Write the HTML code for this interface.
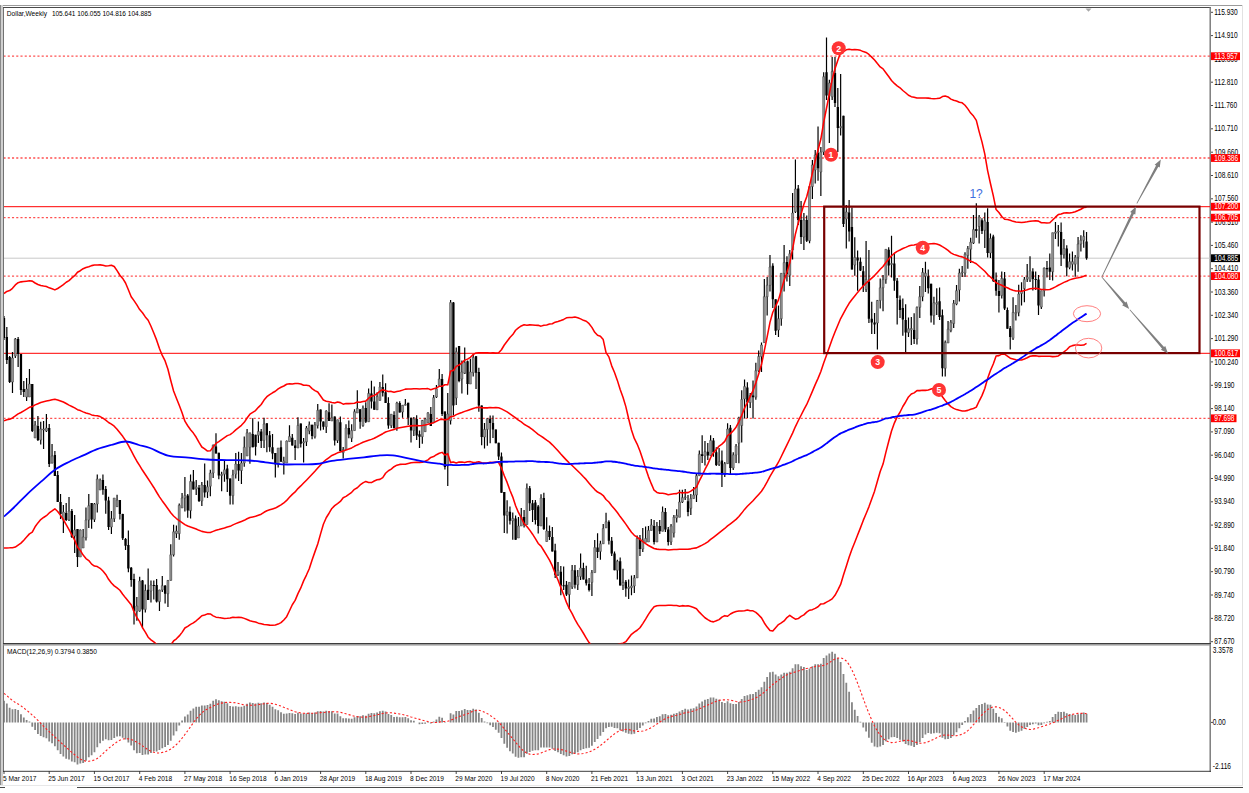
<!DOCTYPE html>
<html><head><meta charset="utf-8"><style>
html,body{margin:0;padding:0;background:#fff;width:1249px;height:793px;overflow:hidden}
svg{display:block}
text{font-family:"Liberation Sans", sans-serif;}
.ax{font-size:7px;letter-spacing:-0.25px}
</style></head><body><svg width="1249" height="793" viewBox="0 0 1249 793"><defs><clipPath id="cm"><rect x="4" y="8" width="1206" height="635.5"/></clipPath><clipPath id="cd"><rect x="4" y="645" width="1206" height="126"/></clipPath></defs><rect x="0" y="0" width="1249" height="793" fill="#fff"/><line x1="0" y1="5.5" x2="1243" y2="5.5" stroke="#9a9a9a" stroke-width="1"/><line x1="0.5" y1="5" x2="0.5" y2="786" stroke="#8a8a8a" stroke-width="1"/><line x1="2" y1="5" x2="2" y2="786" stroke="#d0d0d0" stroke-width="2"/><line x1="3.5" y1="7" x2="3.5" y2="772" stroke="#727272" stroke-width="1"/><line x1="3" y1="7.5" x2="1211" y2="7.5" stroke="#4a4a4a" stroke-width="1"/><line x1="1210.2" y1="7" x2="1210.2" y2="772" stroke="#747474" stroke-width="1.4"/><line x1="1242.5" y1="5" x2="1242.5" y2="786" stroke="#e2e2e2" stroke-width="1"/><line x1="3" y1="643.6" x2="1211" y2="643.6" stroke="#3c3c3c" stroke-width="1.1"/><line x1="3" y1="644.9" x2="1211" y2="644.9" stroke="#8c8c8c" stroke-width="1.2"/><line x1="3" y1="771.3" x2="1211" y2="771.3" stroke="#3c3c3c" stroke-width="1"/><line x1="0" y1="785.5" x2="1243" y2="785.5" stroke="#e8e8e8" stroke-width="1"/><line x1="77" y1="787.5" x2="1243" y2="787.5" stroke="#4a4a4a" stroke-width="1"/><line x1="0" y1="787.5" x2="5" y2="787.5" stroke="#4a4a4a" stroke-width="1"/><g clip-path="url(#cm)"><line x1="4" y1="56.2" x2="1210" y2="56.2" stroke="#ff0000" stroke-width="1.3" stroke-dasharray="2.1 2.14" stroke-dashoffset="0.5" opacity="0.68"/><line x1="4" y1="158.0" x2="1210" y2="158.0" stroke="#ff0000" stroke-width="1.3" stroke-dasharray="2.1 2.14" stroke-dashoffset="0.5" opacity="0.68"/><line x1="4" y1="206.7" x2="1210" y2="206.7" stroke="#ff0000" stroke-width="1" /><line x1="4" y1="217.7" x2="1210" y2="217.7" stroke="#ff0000" stroke-width="1.3" stroke-dasharray="2.1 2.14" stroke-dashoffset="0.5" opacity="0.68"/><line x1="4" y1="258.2" x2="1210" y2="258.2" stroke="#c8c8c8" stroke-width="1" /><line x1="4" y1="276.1" x2="1210" y2="276.1" stroke="#ff0000" stroke-width="1.3" stroke-dasharray="2.1 2.14" stroke-dashoffset="0.5" opacity="0.68"/><line x1="4" y1="353.3" x2="1210" y2="353.3" stroke="#ff0000" stroke-width="1" /><line x1="4" y1="418.3" x2="1210" y2="418.3" stroke="#ff0000" stroke-width="1.3" stroke-dasharray="2.1 2.14" stroke-dashoffset="0.5" opacity="0.68"/><path d="M12.48,352.0V393.0M15.31,338.0V358.0M26.61,378.0V401.0M29.44,369.0V397.0M35.09,421.0V438.0M40.74,421.7V444.4M43.57,421.0V449.0M46.40,414.0V432.0M52.05,444.0V463.5M63.36,505.0V533.0M69.01,497.0V521.0M74.66,515.0V553.0M80.32,529.6V557.0M83.14,529.0V548.0M85.97,507.6V540.4M88.79,494.0V528.0M94.45,503.0V522.0M97.27,474.6V512.4M100.10,478.4V490.0M111.41,511.0V533.9M114.23,498.0V521.9M117.06,494.8V506.7M136.85,597.0V620.8M139.67,576.8V611.7M145.32,584.4V612.4M150.98,580.6V602.6M159.46,589.7V611.0M162.28,576.0V592.0M167.94,580.0V607.0M170.76,544.2V580.4M173.59,524.8V556.6M176.42,525.6V538.0M179.24,503.6V539.8M182.07,493.0V508.0M184.90,477.0V511.5M190.55,474.4V518.6M196.20,480.0V495.0M201.85,482.0V506.0M207.51,480.5V498.0M210.33,469.8V496.3M213.16,444.6V478.0M221.64,471.7V491.2M224.47,461.0V481.8M232.95,469.8V504.5M235.77,453.0V478.6M241.43,453.0V483.9M244.25,436.6V466.7M247.08,429.0V456.0M249.91,432.8V463.7M258.38,421.4V442.9M264.04,417.7V448.0M278.17,448.0V467.5M283.82,456.7V474.4M286.65,440.4V463.0M289.48,425.2V441.6M297.96,417.2V448.0M303.61,438.0V462.6M306.44,426.0V446.0M309.26,421.6V434.2M314.91,422.0V438.6M317.74,404.0V428.5M326.22,410.3V433.0M331.87,404.6V421.0M337.53,419.7V443.0M343.18,447.0V458.4M346.01,424.3V449.5M351.66,424.3V442.0M354.49,409.2V430.6M357.31,390.3V413.0M362.97,405.4V426.8M368.62,388.4V421.8M377.10,392.2V409.8M379.92,382.0V400.4M391.23,414.2V428.0M396.88,401.8V430.8M402.54,405.2V417.8M405.36,399.0V405.6M413.84,417.0V436.0M422.32,420.0V443.7M425.15,417.8V431.7M427.97,412.2V422.9M433.63,395.1V422.9M436.45,385.0V398.0M439.28,369.0V385.4M447.76,392.9V486.0M450.59,300.0V424.4M456.24,347.4V404.9M461.89,360.6V393.5M464.72,347.4V373.9M470.37,358.7V384.0M473.20,354.3V376.5M484.50,423.0V448.4M487.33,418.0V445.8M507.12,500.3V533.6M512.77,512.4V539.7M518.42,517.0V538.0M521.25,507.9V526.0M526.90,483.6V524.5M541.03,494.2V526.0M546.69,517.3V541.5M557.99,562.0V576.0M569.30,582.4V609.0M572.13,565.0V589.0M577.78,570.0V590.0M580.61,553.6V580.0M591.91,570.0V596.0M594.74,540.0V572.6M600.39,540.8V559.7M603.22,524.0V543.8M606.04,512.7V527.9M617.35,559.7V579.4M623.00,568.8V590.0M628.66,579.4V599.0M631.48,575.6V595.3M634.31,575.0V593.0M637.14,535.5V577.9M642.79,527.9V552.0M645.62,526.4V542.3M648.44,526.0V542.0M651.27,519.0V530.4M656.92,522.0V542.0M662.57,506.6V531.3M671.05,524.0V545.0M673.88,515.0V537.5M676.71,509.2V522.5M679.53,489.8V517.2M682.36,489.8V503.0M685.19,489.0V500.0M690.84,494.0V515.0M693.67,487.0V498.6M696.49,474.0V502.0M699.32,450.4V475.7M704.97,441.0V465.6M710.62,435.3V455.5M719.10,448.0V466.0M724.76,462.0V477.0M727.58,423.3V463.7M733.24,452.3V470.0M736.06,444.0V463.0M738.89,416.7V463.3M741.72,390.2V442.5M744.54,379.5V418.4M750.20,393.0V408.0M755.85,362.7V399.8M758.68,350.4V372.0M761.50,342.4V372.0M764.33,279.0V342.7M767.15,277.0V315.6M769.98,255.0V291.6M778.46,305.5V337.0M781.29,273.3V325.7M784.11,245.0V291.6M789.77,250.0V286.0M792.59,192.9V259.5M795.42,159.5V213.0M803.90,213.0V250.0M809.55,186.6V243.3M812.38,160.0V199.0M815.21,150.0V183.4M820.86,147.0V196.0M823.68,72.2V155.0M829.34,79.8V143.0M832.16,57.1V100.0M840.64,74.0V135.4M846.30,205.0V248.5M854.78,237.2V275.7M866.08,241.0V292.0M877.39,300.0V349.6M880.21,278.4V308.6M883.04,275.0V311.2M885.87,249.3V283.7M891.52,235.7V277.6M908.48,317.5V337.0M911.31,317.0V345.0M916.96,306.5V344.4M919.79,286.0V317.9M922.61,267.9V301.2M925.44,261.8V292.0M933.92,296.7V324.7M936.74,288.3V315.0M945.22,340.5V376.5M948.05,321.0V343.0M950.88,320.0V332.3M953.70,300.0V328.0M956.53,285.0V305.2M959.36,268.7V301.4M962.18,266.0V277.0M965.01,252.3V277.0M967.84,246.0V268.7M970.66,237.8V263.0M973.49,215.1V244.1M979.14,215.1V243.5M984.80,212.6V247.9M990.45,233.4V258.0M1001.75,271.4V298.5M1013.06,297.3V340.0M1015.89,304.9V320.6M1018.71,284.7V316.2M1021.54,282.2V305.5M1024.37,277.0V302.3M1027.19,263.9V282.0M1030.02,256.3V282.0M1041.33,290.7V309.0M1044.15,267.4V296.4M1052.63,232.7V280.6M1055.46,222.0V239.0M1058.28,225.1V246.6M1063.94,239.0V258.5M1069.59,253.5V269.3M1072.42,251.6V270.5M1075.24,255.0V276.8M1078.07,237.1V271.8M1080.90,235.2V251.6M1083.72,230.2V247.8" stroke="#000" stroke-width="1.2" fill="none"/><path d="M4.00,316.0V340.0M6.83,327.0V364.0M9.65,356.0V383.0M18.13,337.0V367.0M20.96,354.0V395.0M23.79,381.0V397.0M32.27,384.0V432.0M37.92,416.0V441.0M49.22,424.0V467.0M54.88,451.0V476.0M57.70,471.0V502.0M60.53,494.0V519.0M66.18,503.0V521.0M71.84,509.0V538.0M77.49,529.0V567.0M91.62,503.0V528.8M102.93,474.6V494.8M105.75,486.0V513.7M108.58,496.7V530.0M119.89,500.0V519.4M122.71,513.7V540.0M125.54,538.0V550.0M128.37,530.6V572.3M131.19,567.0V586.7M134.02,573.8V624.5M142.50,580.0V627.6M148.15,568.5V600.0M153.80,580.6V599.5M156.63,579.0V602.6M165.11,585.0V603.4M187.72,494.0V517.7M193.38,470.0V489.4M199.03,485.0V502.0M204.68,463.5V497.6M215.99,433.2V453.4M218.81,452.8V479.3M227.29,464.8V491.9M230.12,478.6V504.5M238.60,451.7V481.0M252.73,418.3V447.3M255.56,434.7V455.5M261.21,429.0V448.0M266.86,423.3V452.3M269.69,431.0V451.7M272.52,434.0V459.3M275.34,453.0V477.6M281.00,440.4V461.8M292.30,434.0V445.4M295.13,440.0V460.0M300.78,423.5V447.5M312.09,424.8V439.3M320.57,409.6V430.4M323.39,421.6V429.8M329.05,403.3V421.0M334.70,416.6V445.6M340.35,416.6V451.2M348.83,420.5V438.2M360.14,409.2V428.7M365.79,402.2V423.0M371.44,380.8V408.5M374.27,386.5V409.8M382.75,374.5V396.6M385.58,383.3V402.9M388.40,397.2V428.7M394.06,411.2V428.3M399.71,401.2V412.5M408.19,402.7V425.0M411.02,417.8V442.4M416.67,415.3V440.0M419.50,430.4V448.1M430.80,407.1V426.0M442.11,374.0V416.0M444.93,411.5V469.5M453.41,302.0V415.6M459.07,346.0V382.2M467.55,360.6V394.8M476.03,356.0V389.0M478.85,367.7V411.8M481.68,405.5V445.2M490.16,415.6V443.3M492.98,415.6V438.0M495.81,429.4V443.3M498.64,442.7V460.0M501.46,452.6V492.7M504.29,492.0V532.9M509.94,506.4V524.5M515.60,515.5V539.7M524.08,510.0V527.6M529.73,485.9V511.0M532.56,500.0V522.0M535.38,500.0V524.5M538.21,505.0V533.6M543.86,492.7V530.0M549.51,525.6V540.0M552.34,527.0V551.4M555.17,543.8V577.9M560.82,566.0V595.3M563.65,566.5V590.0M566.47,580.9V596.0M574.95,565.0V588.5M583.43,562.7V579.4M586.26,565.8V585.5M589.09,577.9V591.5M597.56,533.2V558.0M608.87,520.3V544.5M611.70,537.0V555.9M614.52,551.4V570.3M620.18,557.4V585.5M625.83,580.0V596.8M639.96,535.0V555.9M654.09,520.0V544.6M659.75,520.0V534.0M665.40,508.0V532.0M668.23,527.0V545.4M688.01,495.0V516.3M702.15,435.3V463.0M707.80,442.9V460.0M713.45,438.0V456.7M716.28,447.3V466.0M721.93,450.4V487.0M730.41,425.0V474.4M747.37,382.2V418.0M753.02,380.4V418.4M772.81,263.2V308.0M775.63,299.2V335.1M786.94,256.3V281.5M798.25,185.0V225.0M801.07,201.0V244.0M806.73,215.6V242.0M818.03,126.6V180.8M826.51,37.6V100.0M834.99,57.1V106.9M837.82,88.0V152.0M843.47,115.7V227.1M849.12,200.0V241.6M851.95,207.6V269.4M857.60,250.4V290.8M860.43,257.4V271.0M863.26,266.0V292.0M868.91,250.0V323.0M871.74,301.7V333.9M874.56,313.0V333.9M888.69,247.3V275.6M894.35,253.9V290.8M897.17,278.0V324.4M900.00,295.4V318.1M902.83,298.5V335.8M905.65,304.2V352.0M914.13,313.3V344.0M928.27,269.4V293.6M931.09,283.8V322.4M939.57,287.6V320.0M942.40,309.6V376.5M976.32,203.2V237.8M981.97,218.3V234.0M987.62,208.2V257.4M993.27,234.7V282.0M996.10,272.5V295.8M998.93,280.0V312.4M1004.58,272.0V310.0M1007.41,307.4V328.8M1010.23,326.0V349.6M1032.85,268.3V290.4M1035.67,271.4V290.0M1038.50,275.0V315.0M1046.98,261.0V277.5M1049.80,253.5V280.0M1061.11,222.6V266.1M1066.76,245.3V276.2M1086.55,232.1V259.8" stroke="#000" stroke-width="1.2" fill="none"/><path d="M11.48,358.0h2.0V382.0h-2.0ZM14.31,339.0h2.0V356.0h-2.0ZM25.61,389.0h2.0V397.0h-2.0ZM28.44,384.0h2.0V397.0h-2.0ZM34.09,425.0h2.0V438.0h-2.0ZM39.74,429.0h2.0V440.0h-2.0ZM42.57,429.0h2.0V430.0h-2.0ZM45.40,428.0h2.0V431.0h-2.0ZM51.05,456.0h2.0V463.0h-2.0ZM62.36,512.0h2.0V520.0h-2.0ZM68.01,511.0h2.0V520.0h-2.0ZM73.66,530.0h2.0V536.0h-2.0ZM79.32,530.0h2.0V557.0h-2.0ZM82.14,537.0h2.0V548.0h-2.0ZM84.97,520.0h2.0V537.8h-2.0ZM87.79,505.7h2.0V520.0h-2.0ZM93.45,504.0h2.0V519.4h-2.0ZM96.27,479.0h2.0V504.0h-2.0ZM99.10,480.0h2.0V490.0h-2.0ZM110.41,518.7h2.0V527.0h-2.0ZM113.23,498.0h2.0V518.7h-2.0ZM116.06,500.0h2.0V506.7h-2.0ZM135.85,606.0h2.0V611.7h-2.0ZM138.67,581.0h2.0V611.0h-2.0ZM144.32,590.5h2.0V609.4h-2.0ZM149.98,585.0h2.0V591.0h-2.0ZM158.46,590.0h2.0V601.6h-2.0ZM161.28,585.7h2.0V590.0h-2.0ZM166.94,580.4h2.0V593.7h-2.0ZM169.76,554.8h2.0V580.4h-2.0ZM172.59,531.8h2.0V554.8h-2.0ZM175.42,531.0h2.0V533.6h-2.0ZM178.24,505.3h2.0V533.6h-2.0ZM181.07,498.0h2.0V508.0h-2.0ZM183.90,495.6h2.0V498.0h-2.0ZM189.55,481.5h2.0V510.6h-2.0ZM195.20,487.0h2.0V489.0h-2.0ZM200.85,485.0h2.0V501.0h-2.0ZM206.51,486.8h2.0V492.0h-2.0ZM209.33,473.0h2.0V486.2h-2.0ZM212.16,445.2h2.0V473.0h-2.0ZM220.64,474.2h2.0V475.5h-2.0ZM223.47,469.8h2.0V474.2h-2.0ZM231.95,474.9h2.0V495.7h-2.0ZM234.77,464.0h2.0V474.2h-2.0ZM240.43,463.0h2.0V470.6h-2.0ZM243.25,447.3h2.0V463.0h-2.0ZM246.08,432.8h2.0V456.0h-2.0ZM248.91,432.8h2.0V447.3h-2.0ZM257.38,431.5h2.0V435.3h-2.0ZM263.04,424.0h2.0V440.4h-2.0ZM277.17,448.0h2.0V464.3h-2.0ZM282.82,461.0h2.0V463.0h-2.0ZM285.65,441.0h2.0V463.0h-2.0ZM288.48,436.6h2.0V441.6h-2.0ZM296.96,425.4h2.0V448.0h-2.0ZM302.61,441.8h2.0V443.0h-2.0ZM305.44,428.0h2.0V441.8h-2.0ZM308.26,424.8h2.0V431.0h-2.0ZM313.91,424.8h2.0V436.7h-2.0ZM316.74,410.3h2.0V425.4h-2.0ZM325.22,411.0h2.0V426.7h-2.0ZM330.87,417.8h2.0V421.0h-2.0ZM336.53,419.7h2.0V440.5h-2.0ZM342.18,449.5h2.0V452.7h-2.0ZM345.01,428.0h2.0V449.5h-2.0ZM350.66,430.6h2.0V438.2h-2.0ZM353.49,411.7h2.0V430.6h-2.0ZM356.31,408.5h2.0V413.0h-2.0ZM361.97,408.0h2.0V425.6h-2.0ZM367.62,393.4h2.0V421.8h-2.0ZM376.10,396.6h2.0V409.8h-2.0ZM378.92,387.1h2.0V400.4h-2.0ZM390.23,414.2h2.0V425.6h-2.0ZM395.88,403.0h2.0V428.3h-2.0ZM401.54,405.2h2.0V412.0h-2.0ZM404.36,404.3h2.0V405.2h-2.0ZM412.84,419.0h2.0V430.4h-2.0ZM421.32,420.4h2.0V436.7h-2.0ZM424.15,419.0h2.0V431.7h-2.0ZM426.97,412.8h2.0V422.9h-2.0ZM432.63,397.7h2.0V422.9h-2.0ZM435.45,388.8h2.0V397.0h-2.0ZM438.28,379.0h2.0V385.4h-2.0ZM446.76,414.0h2.0V465.8h-2.0ZM449.59,302.6h2.0V420.6h-2.0ZM455.24,351.8h2.0V398.0h-2.0ZM460.89,372.0h2.0V379.0h-2.0ZM463.72,362.6h2.0V373.3h-2.0ZM469.37,372.0h2.0V384.0h-2.0ZM472.20,357.6h2.0V372.7h-2.0ZM483.50,429.4h2.0V437.0h-2.0ZM486.33,418.7h2.0V429.4h-2.0ZM506.12,511.7h2.0V515.5h-2.0ZM511.77,518.5h2.0V520.8h-2.0ZM517.42,526.0h2.0V538.0h-2.0ZM520.25,517.0h2.0V526.0h-2.0ZM525.90,488.2h2.0V524.5h-2.0ZM540.03,498.0h2.0V526.0h-2.0ZM545.69,531.0h2.0V541.5h-2.0ZM556.99,570.3h2.0V574.8h-2.0ZM568.30,582.4h2.0V594.5h-2.0ZM571.13,570.3h2.0V587.0h-2.0ZM576.78,576.4h2.0V584.7h-2.0ZM579.61,568.0h2.0V576.4h-2.0ZM590.91,572.6h2.0V582.4h-2.0ZM593.74,547.6h2.0V572.6h-2.0ZM599.39,543.8h2.0V551.4h-2.0ZM602.22,528.6h2.0V543.8h-2.0ZM605.04,521.8h2.0V527.9h-2.0ZM616.35,561.2h2.0V570.3h-2.0ZM622.00,582.4h2.0V585.5h-2.0ZM627.66,587.0h2.0V588.5h-2.0ZM630.48,586.0h2.0V587.7h-2.0ZM633.31,577.9h2.0V586.0h-2.0ZM636.14,538.5h2.0V577.9h-2.0ZM641.79,540.0h2.0V549.0h-2.0ZM644.62,538.5h2.0V542.3h-2.0ZM647.44,530.4h2.0V542.0h-2.0ZM650.27,525.0h2.0V530.4h-2.0ZM655.92,526.0h2.0V542.0h-2.0ZM661.57,511.9h2.0V531.3h-2.0ZM670.05,526.0h2.0V542.0h-2.0ZM672.88,517.2h2.0V533.0h-2.0ZM675.71,515.4h2.0V518.0h-2.0ZM678.53,502.0h2.0V517.2h-2.0ZM681.36,497.7h2.0V502.0h-2.0ZM684.19,496.9h2.0V497.8h-2.0ZM689.84,498.6h2.0V508.3h-2.0ZM692.67,495.0h2.0V498.6h-2.0ZM695.49,475.7h2.0V495.0h-2.0ZM698.32,454.2h2.0V475.7h-2.0ZM703.97,451.7h2.0V456.0h-2.0ZM709.62,440.4h2.0V455.5h-2.0ZM718.10,461.8h2.0V464.3h-2.0ZM723.76,463.7h2.0V474.4h-2.0ZM726.58,429.0h2.0V463.7h-2.0ZM732.24,454.9h2.0V468.0h-2.0ZM735.06,446.0h2.0V454.9h-2.0ZM737.89,417.9h2.0V443.1h-2.0ZM740.72,399.6h2.0V425.5h-2.0ZM743.54,386.6h2.0V399.0h-2.0ZM749.20,395.4h2.0V402.5h-2.0ZM754.85,370.7h2.0V397.2h-2.0ZM757.68,356.5h2.0V370.7h-2.0ZM760.50,345.0h2.0V356.5h-2.0ZM763.33,296.7h2.0V342.7h-2.0ZM766.15,285.3h2.0V296.7h-2.0ZM768.98,267.0h2.0V285.3h-2.0ZM777.46,318.7h2.0V330.0h-2.0ZM780.29,273.3h2.0V318.7h-2.0ZM783.11,262.6h2.0V273.3h-2.0ZM788.77,253.8h2.0V275.2h-2.0ZM791.59,213.0h2.0V250.0h-2.0ZM794.42,189.0h2.0V211.8h-2.0ZM802.90,220.0h2.0V237.0h-2.0ZM808.55,186.6h2.0V240.8h-2.0ZM811.38,165.0h2.0V186.6h-2.0ZM814.21,155.0h2.0V170.0h-2.0ZM819.86,152.0h2.0V172.0h-2.0ZM822.68,76.7h2.0V152.0h-2.0ZM828.34,83.0h2.0V95.6h-2.0ZM831.16,71.6h2.0V96.8h-2.0ZM839.64,126.6h2.0V127.8h-2.0ZM845.30,212.0h2.0V219.0h-2.0ZM853.78,257.4h2.0V265.0h-2.0ZM865.08,279.4h2.0V289.5h-2.0ZM876.39,300.4h2.0V323.0h-2.0ZM879.21,287.8h2.0V300.4h-2.0ZM882.04,279.6h2.0V287.8h-2.0ZM884.87,249.3h2.0V279.6h-2.0ZM890.52,263.5h2.0V264.5h-2.0ZM907.48,328.8h2.0V332.6h-2.0ZM910.31,328.5h2.0V330.0h-2.0ZM915.96,307.3h2.0V339.0h-2.0ZM918.79,296.7h2.0V307.3h-2.0ZM921.61,272.4h2.0V296.7h-2.0ZM924.44,273.2h2.0V276.2h-2.0ZM932.92,302.7h2.0V315.6h-2.0ZM935.74,302.7h2.0V304.2h-2.0ZM944.22,342.4h2.0V368.3h-2.0ZM947.05,329.2h2.0V343.0h-2.0ZM949.88,322.2h2.0V330.4h-2.0ZM952.70,303.3h2.0V323.5h-2.0ZM955.53,290.7h2.0V304.0h-2.0ZM958.36,273.0h2.0V290.0h-2.0ZM961.18,272.0h2.0V273.0h-2.0ZM964.01,254.2h2.0V273.1h-2.0ZM966.84,248.5h2.0V255.5h-2.0ZM969.66,242.2h2.0V249.2h-2.0ZM972.49,229.6h2.0V242.9h-2.0ZM978.14,217.0h2.0V226.5h-2.0ZM983.80,220.8h2.0V230.3h-2.0ZM989.45,238.5h2.0V253.0h-2.0ZM1000.75,278.4h2.0V295.4h-2.0ZM1012.06,312.4h2.0V338.3h-2.0ZM1014.89,312.4h2.0V313.7h-2.0ZM1017.71,294.1h2.0V312.4h-2.0ZM1020.54,291.6h2.0V293.5h-2.0ZM1023.37,279.6h2.0V288.5h-2.0ZM1026.19,277.0h2.0V279.0h-2.0ZM1029.02,270.8h2.0V280.3h-2.0ZM1040.33,290.7h2.0V307.0h-2.0ZM1043.15,268.0h2.0V290.7h-2.0ZM1051.63,232.7h2.0V271.8h-2.0ZM1054.46,232.0h2.0V233.3h-2.0ZM1057.28,231.0h2.0V232.0h-2.0ZM1062.94,248.5h2.0V254.8h-2.0ZM1068.59,261.7h2.0V267.4h-2.0ZM1071.42,261.7h2.0V264.2h-2.0ZM1074.24,257.3h2.0V264.2h-2.0ZM1077.07,244.0h2.0V257.3h-2.0ZM1079.90,240.3h2.0V244.0h-2.0ZM1082.72,236.5h2.0V240.3h-2.0Z" fill="#959595" stroke="#3a3a3a" stroke-width="0.5"/><path d="M2.85,318.0h2.3V338.0h-2.3ZM5.68,337.0h2.3V360.0h-2.3ZM8.50,357.0h2.3V382.0h-2.3ZM16.98,339.0h2.3V354.0h-2.3ZM19.81,354.0h2.3V390.0h-2.3ZM22.64,389.0h2.3V392.0h-2.3ZM31.12,384.0h2.3V431.0h-2.3ZM36.77,426.0h2.3V440.0h-2.3ZM48.07,428.0h2.3V464.0h-2.3ZM53.73,455.0h2.3V476.0h-2.3ZM56.55,475.0h2.3V502.0h-2.3ZM59.38,502.0h2.3V514.0h-2.3ZM65.03,513.0h2.3V520.0h-2.3ZM70.69,511.0h2.3V537.0h-2.3ZM76.34,529.0h2.3V557.0h-2.3ZM90.47,503.0h2.3V519.4h-2.3ZM101.78,480.0h2.3V489.7h-2.3ZM104.60,489.0h2.3V500.4h-2.3ZM107.43,500.4h2.3V527.0h-2.3ZM118.74,500.0h2.3V514.0h-2.3ZM121.56,514.0h2.3V538.3h-2.3ZM124.39,539.0h2.3V545.8h-2.3ZM127.22,545.0h2.3V568.5h-2.3ZM130.04,567.7h2.3V580.0h-2.3ZM132.87,579.0h2.3V611.0h-2.3ZM141.35,580.6h2.3V609.4h-2.3ZM147.00,589.7h2.3V600.0h-2.3ZM152.65,585.0h2.3V586.0h-2.3ZM155.48,585.0h2.3V601.6h-2.3ZM163.96,585.7h2.3V593.7h-2.3ZM186.57,495.6h2.3V510.6h-2.3ZM192.23,481.5h2.3V489.4h-2.3ZM197.88,487.7h2.3V501.0h-2.3ZM203.53,485.0h2.3V492.5h-2.3ZM214.84,446.5h2.3V453.4h-2.3ZM217.66,452.8h2.3V475.5h-2.3ZM226.14,468.5h2.3V479.3h-2.3ZM228.97,478.6h2.3V495.7h-2.3ZM237.45,464.0h2.3V470.4h-2.3ZM251.58,434.0h2.3V447.3h-2.3ZM254.41,434.7h2.3V446.7h-2.3ZM260.06,431.5h2.3V441.0h-2.3ZM265.71,423.3h2.3V435.3h-2.3ZM268.54,435.3h2.3V447.3h-2.3ZM271.37,447.3h2.3V453.6h-2.3ZM274.19,453.0h2.3V464.3h-2.3ZM279.85,447.3h2.3V461.8h-2.3ZM291.15,437.8h2.3V445.4h-2.3ZM293.98,445.6h2.3V448.0h-2.3ZM299.63,423.5h2.3V443.7h-2.3ZM310.94,424.8h2.3V436.0h-2.3ZM319.42,409.6h2.3V421.6h-2.3ZM322.24,421.6h2.3V426.7h-2.3ZM327.90,412.2h2.3V421.0h-2.3ZM333.55,416.6h2.3V440.5h-2.3ZM339.20,422.2h2.3V451.2h-2.3ZM347.68,428.0h2.3V434.4h-2.3ZM358.99,409.2h2.3V421.8h-2.3ZM364.64,408.0h2.3V421.8h-2.3ZM370.30,393.4h2.3V401.6h-2.3ZM373.12,401.6h2.3V409.8h-2.3ZM381.60,387.1h2.3V392.8h-2.3ZM384.43,392.2h2.3V402.9h-2.3ZM387.25,402.9h2.3V425.6h-2.3ZM392.91,415.0h2.3V428.3h-2.3ZM398.56,403.0h2.3V412.5h-2.3ZM407.04,402.7h2.3V417.8h-2.3ZM409.87,417.8h2.3V430.4h-2.3ZM415.52,419.0h2.3V435.5h-2.3ZM418.35,434.2h2.3V436.7h-2.3ZM429.65,414.0h2.3V426.0h-2.3ZM440.96,379.0h2.3V414.0h-2.3ZM443.78,411.5h2.3V467.0h-2.3ZM452.26,302.6h2.3V405.5h-2.3ZM457.92,346.0h2.3V381.0h-2.3ZM466.40,361.3h2.3V384.0h-2.3ZM474.88,356.3h2.3V372.7h-2.3ZM477.70,372.0h2.3V405.5h-2.3ZM480.53,405.5h2.3V437.0h-2.3ZM489.01,418.7h2.3V423.0h-2.3ZM491.83,423.0h2.3V429.4h-2.3ZM494.66,429.4h2.3V443.3h-2.3ZM497.49,442.7h2.3V456.4h-2.3ZM500.31,456.4h2.3V492.7h-2.3ZM503.14,492.0h2.3V515.5h-2.3ZM508.79,511.7h2.3V520.8h-2.3ZM514.45,518.5h2.3V539.7h-2.3ZM522.93,517.0h2.3V524.5h-2.3ZM528.58,488.2h2.3V503.3h-2.3ZM531.41,503.3h2.3V510.0h-2.3ZM534.23,502.6h2.3V520.0h-2.3ZM537.06,506.4h2.3V526.0h-2.3ZM542.71,498.0h2.3V529.0h-2.3ZM548.36,531.0h2.3V537.0h-2.3ZM551.19,537.0h2.3V551.4h-2.3ZM554.02,550.6h2.3V574.8h-2.3ZM559.67,571.8h2.3V585.5h-2.3ZM562.50,585.3h2.3V586.2h-2.3ZM565.32,584.7h2.3V594.5h-2.3ZM573.80,570.3h2.3V584.7h-2.3ZM582.28,568.0h2.3V579.4h-2.3ZM585.11,579.4h2.3V583.2h-2.3ZM587.94,584.0h2.3V590.0h-2.3ZM596.41,547.6h2.3V552.0h-2.3ZM607.72,521.8h2.3V540.8h-2.3ZM610.55,540.8h2.3V553.6h-2.3ZM613.37,553.6h2.3V570.3h-2.3ZM619.03,561.2h2.3V585.5h-2.3ZM624.68,581.7h2.3V588.5h-2.3ZM638.81,538.5h2.3V549.0h-2.3ZM652.94,526.0h2.3V542.0h-2.3ZM658.60,526.0h2.3V531.3h-2.3ZM664.25,511.9h2.3V529.5h-2.3ZM667.08,529.5h2.3V542.0h-2.3ZM686.86,501.3h2.3V511.9h-2.3ZM701.00,454.2h2.3V456.0h-2.3ZM706.65,451.7h2.3V455.5h-2.3ZM712.30,440.4h2.3V452.3h-2.3ZM715.13,452.3h2.3V465.0h-2.3ZM720.78,460.5h2.3V474.4h-2.3ZM729.26,427.7h2.3V468.0h-2.3ZM746.22,387.5h2.3V402.5h-2.3ZM751.87,395.4h2.3V397.2h-2.3ZM771.66,265.8h2.3V299.2h-2.3ZM774.48,299.2h2.3V330.7h-2.3ZM785.79,262.0h2.3V274.0h-2.3ZM797.10,188.5h2.3V220.0h-2.3ZM799.92,220.0h2.3V237.0h-2.3ZM805.58,220.0h2.3V240.8h-2.3ZM816.88,153.0h2.3V168.2h-2.3ZM825.36,72.2h2.3V95.6h-2.3ZM833.84,72.9h2.3V103.1h-2.3ZM836.67,107.0h2.3V128.0h-2.3ZM842.32,115.7h2.3V224.0h-2.3ZM847.97,212.6h2.3V231.5h-2.3ZM850.80,227.0h2.3V269.4h-2.3ZM856.45,257.4h2.3V260.5h-2.3ZM859.28,261.8h2.3V270.6h-2.3ZM862.11,271.2h2.3V285.8h-2.3ZM867.76,281.5h2.3V318.7h-2.3ZM870.59,318.7h2.3V322.5h-2.3ZM873.41,322.5h2.3V324.4h-2.3ZM887.54,249.8h2.3V265.5h-2.3ZM893.20,263.5h2.3V280.7h-2.3ZM896.02,280.7h2.3V298.0h-2.3ZM898.85,299.8h2.3V309.9h-2.3ZM901.68,308.0h2.3V319.4h-2.3ZM904.50,320.0h2.3V332.6h-2.3ZM912.98,330.0h2.3V339.0h-2.3ZM927.12,276.2h2.3V288.3h-2.3ZM929.94,283.8h2.3V315.6h-2.3ZM938.42,301.2h2.3V317.1h-2.3ZM941.25,315.3h2.3V368.3h-2.3ZM975.17,229.0h2.3V231.0h-2.3ZM980.82,220.2h2.3V231.0h-2.3ZM986.47,222.0h2.3V253.0h-2.3ZM992.12,236.6h2.3V280.7h-2.3ZM994.95,279.4h2.3V290.8h-2.3ZM997.78,291.0h2.3V296.0h-2.3ZM1003.43,278.4h2.3V308.6h-2.3ZM1006.26,310.0h2.3V328.8h-2.3ZM1009.08,328.2h2.3V337.0h-2.3ZM1031.70,271.4h2.3V279.0h-2.3ZM1034.52,279.0h2.3V280.0h-2.3ZM1037.35,279.6h2.3V305.5h-2.3ZM1045.83,268.0h2.3V269.3h-2.3ZM1048.65,267.4h2.3V271.8h-2.3ZM1059.96,232.0h2.3V254.8h-2.3ZM1065.61,248.5h2.3V267.4h-2.3ZM1085.40,241.4h2.3V258.2h-2.3Z" fill="#000"/><path d="M4.00,293.55 L6.83,291.43 L9.65,290.57 L12.48,288.32 L15.31,284.91 L18.13,282.63 L20.96,281.87 L23.79,281.51 L26.61,281.17 L29.44,280.80 L32.27,281.12 L35.09,283.01 L37.92,284.52 L40.74,285.57 L43.57,286.09 L46.40,286.50 L49.22,287.84 L52.05,288.74 L54.88,289.87 L57.70,288.49 L60.53,286.51 L63.36,284.56 L66.18,282.26 L69.01,280.61 L71.84,277.96 L74.66,275.71 L77.49,272.24 L80.32,270.71 L83.14,268.70 L85.97,267.44 L88.79,266.77 L91.62,265.63 L94.45,265.04 L97.27,264.93 L100.10,264.86 L102.93,265.22 L105.75,265.90 L108.58,265.74 L111.41,265.24 L114.23,266.49 L117.06,270.65 L119.89,275.26 L122.71,278.40 L125.54,283.01 L128.37,289.71 L131.19,296.73 L134.02,300.64 L136.85,304.90 L139.67,309.53 L142.50,312.81 L145.32,316.93 L148.15,320.23 L150.98,326.25 L153.80,332.96 L156.63,340.15 L159.46,348.46 L162.28,355.47 L165.11,360.91 L167.94,369.25 L170.76,380.55 L173.59,390.97 L176.42,398.28 L179.24,405.30 L182.07,412.78 L184.90,421.19 L187.72,425.73 L190.55,429.81 L193.38,433.06 L196.20,437.30 L199.03,442.38 L201.85,446.99 L204.68,448.83 L207.51,451.05 L210.33,450.84 L213.16,446.91 L215.99,443.38 L218.81,441.62 L221.64,439.58 L224.47,437.56 L227.29,435.62 L230.12,434.62 L232.95,432.50 L235.77,429.89 L238.60,427.69 L241.43,425.33 L244.25,422.33 L247.08,418.00 L249.91,414.18 L252.73,412.41 L255.56,410.57 L258.38,407.33 L261.21,404.50 L264.04,400.08 L266.86,396.71 L269.69,394.58 L272.52,392.79 L275.34,391.28 L278.17,388.85 L281.00,387.22 L283.82,385.99 L286.65,384.22 L289.48,383.80 L292.30,384.00 L295.13,383.47 L297.96,383.53 L300.78,383.94 L303.61,385.25 L306.44,385.35 L309.26,385.77 L312.09,388.61 L314.91,390.62 L317.74,392.05 L320.57,396.03 L323.39,400.06 L326.22,401.28 L329.05,401.80 L331.87,402.46 L334.70,402.91 L337.53,402.07 L340.35,402.62 L343.18,404.14 L346.01,403.53 L348.83,403.62 L351.66,403.54 L354.49,403.29 L357.31,402.04 L360.14,402.33 L362.97,401.52 L365.79,401.12 L368.62,398.20 L371.44,396.17 L374.27,395.41 L377.10,393.72 L379.92,391.17 L382.75,389.82 L385.58,390.74 L388.40,391.50 L391.23,391.38 L394.06,392.18 L396.88,391.57 L399.71,391.07 L402.54,390.11 L405.36,389.12 L408.19,388.94 L411.02,389.04 L413.84,388.80 L416.67,388.84 L419.50,388.95 L422.32,388.74 L425.15,388.68 L427.97,388.64 L430.80,389.65 L433.63,388.71 L436.45,387.91 L439.28,386.31 L442.11,386.29 L444.93,384.76 L447.76,384.85 L450.59,370.94 L453.41,370.55 L456.24,366.36 L459.07,365.01 L461.89,362.91 L464.72,360.14 L467.55,359.13 L470.37,357.31 L473.20,354.55 L476.03,352.94 L478.85,352.80 L481.68,352.70 L484.50,352.66 L487.33,352.67 L490.16,352.91 L492.98,352.86 L495.81,353.14 L498.64,352.85 L501.46,349.73 L504.29,345.02 L507.12,341.28 L509.94,337.49 L512.77,334.55 L515.60,330.22 L518.42,327.79 L521.25,325.96 L524.08,324.84 L526.90,325.16 L529.73,324.86 L532.56,324.96 L535.38,325.29 L538.21,325.36 L541.03,326.13 L543.86,325.29 L546.69,324.92 L549.51,324.08 L552.34,323.73 L555.17,322.15 L557.99,321.53 L560.82,320.56 L563.65,319.44 L566.47,317.83 L569.30,317.58 L572.13,317.45 L574.95,316.99 L577.78,317.68 L580.61,318.91 L583.43,320.32 L586.26,321.26 L589.09,323.66 L591.91,327.35 L594.74,332.33 L597.56,335.34 L600.39,336.28 L603.22,339.60 L606.04,352.57 L608.87,356.89 L611.70,365.83 L614.52,372.43 L617.35,380.39 L620.18,389.51 L623.00,397.18 L625.83,406.61 L628.66,418.70 L631.48,430.03 L634.31,438.47 L637.14,444.08 L639.96,450.96 L642.79,459.49 L645.62,468.19 L648.44,476.60 L651.27,483.67 L654.09,490.20 L656.92,492.46 L659.75,493.28 L662.57,493.29 L665.40,493.73 L668.23,494.75 L671.05,494.20 L673.88,493.72 L676.71,493.62 L679.53,492.16 L682.36,493.02 L685.19,492.51 L688.01,492.64 L690.84,491.16 L693.67,489.13 L696.49,487.07 L699.32,480.93 L702.15,475.34 L704.97,469.48 L707.80,464.13 L710.62,457.63 L713.45,452.70 L716.28,449.38 L719.10,446.07 L721.93,444.16 L724.76,441.35 L727.58,435.59 L730.41,433.61 L733.24,430.71 L736.06,427.19 L738.89,421.83 L741.72,415.25 L744.54,408.14 L747.37,402.59 L750.20,396.32 L753.02,390.65 L755.85,382.81 L758.68,373.99 L761.50,364.59 L764.33,350.66 L767.15,336.78 L769.98,322.34 L772.81,312.25 L775.63,306.31 L778.46,299.85 L781.29,290.15 L784.11,280.23 L786.94,272.20 L789.77,262.78 L792.59,248.94 L795.42,233.94 L798.25,222.92 L801.07,214.11 L803.90,204.33 L806.73,196.75 L809.55,185.74 L812.38,173.18 L815.21,160.78 L818.03,149.96 L820.86,139.02 L823.68,122.28 L826.51,108.26 L829.34,93.91 L832.16,79.58 L834.99,68.66 L837.82,60.33 L840.64,52.58 L843.47,51.47 L846.30,49.84 L849.12,49.36 L851.95,49.85 L854.78,49.62 L857.60,49.79 L860.43,50.35 L863.26,51.60 L866.08,52.47 L868.91,54.45 L871.74,57.16 L874.56,59.99 L877.39,63.59 L880.21,66.92 L883.04,68.90 L885.87,72.66 L888.69,76.57 L891.52,80.47 L894.35,83.46 L897.17,85.87 L900.00,87.79 L902.83,90.50 L905.65,92.75 L908.48,95.29 L911.31,96.65 L914.13,97.21 L916.96,98.05 L919.79,98.05 L922.61,98.04 L925.44,98.07 L928.27,98.14 L931.09,98.46 L933.92,98.71 L936.74,98.59 L939.57,98.35 L942.40,96.59 L945.22,96.04 L948.05,96.95 L950.88,99.12 L953.70,100.32 L956.53,101.07 L959.36,102.27 L962.18,102.84 L965.01,105.25 L967.84,108.86 L970.66,113.06 L973.49,116.09 L976.32,120.36 L979.14,131.58 L981.97,141.89 L984.80,154.10 L987.62,170.60 L990.45,183.53 L993.27,195.56 L996.10,209.56 L998.93,212.56 L1001.75,216.49 L1004.58,219.20 L1007.41,219.53 L1010.23,220.25 L1013.06,221.37 L1015.89,222.09 L1018.71,222.25 L1021.54,222.54 L1024.37,222.17 L1027.19,221.81 L1030.02,221.31 L1032.85,220.95 L1035.67,220.77 L1038.50,221.13 L1041.33,222.74 L1044.15,222.84 L1046.98,223.10 L1049.80,222.80 L1052.63,219.96 L1055.46,217.18 L1058.28,214.58 L1061.11,213.90 L1063.94,212.90 L1066.76,212.82 L1069.59,213.06 L1072.42,212.48 L1075.24,211.69 L1078.07,210.56 L1080.90,209.23 L1083.72,207.50 L1086.55,207.13" stroke="#ff0000" stroke-width="1.55" fill="none" stroke-linejoin="round"/><path d="M4.00,420.79 L6.83,419.70 L9.65,419.21 L12.48,417.99 L15.31,415.97 L18.13,413.84 L20.96,412.48 L23.79,410.84 L26.61,409.14 L29.44,407.34 L32.27,406.59 L35.09,404.90 L37.92,403.71 L40.74,402.58 L43.57,401.79 L46.40,401.10 L49.22,400.39 L52.05,399.82 L54.88,399.32 L57.70,400.00 L60.53,400.94 L63.36,402.05 L66.18,403.48 L69.01,405.11 L71.84,406.44 L74.66,407.93 L77.49,409.72 L80.32,410.58 L83.14,411.90 L85.97,413.01 L88.79,413.65 L91.62,414.88 L94.45,415.55 L97.27,415.75 L100.10,416.59 L102.93,418.15 L105.75,420.17 L108.58,422.50 L111.41,424.09 L114.23,426.16 L117.06,429.28 L119.89,432.76 L122.71,436.35 L125.54,440.44 L128.37,445.48 L131.19,450.74 L134.02,456.09 L136.85,461.21 L139.67,465.58 L142.50,470.29 L145.32,474.54 L148.15,478.72 L150.98,483.06 L153.80,487.46 L156.63,492.24 L159.46,496.82 L162.28,500.92 L165.11,504.77 L167.94,508.81 L170.76,512.74 L173.59,515.97 L176.42,518.53 L179.24,520.59 L182.07,522.58 L184.90,524.61 L187.72,526.05 L190.55,527.08 L193.38,527.98 L196.20,529.03 L199.03,530.34 L201.85,531.38 L204.68,531.90 L207.51,532.46 L210.33,532.40 L213.16,531.37 L215.99,530.27 L218.81,529.60 L221.64,528.77 L224.47,528.02 L227.29,526.97 L230.12,526.35 L232.95,524.86 L235.77,523.66 L238.60,522.45 L241.43,521.41 L244.25,520.35 L247.08,518.77 L249.91,517.48 L252.73,516.90 L255.56,516.30 L258.38,515.24 L261.21,514.16 L264.04,512.29 L266.86,510.77 L269.69,509.85 L272.52,509.00 L275.34,508.10 L278.17,506.46 L281.00,504.93 L283.82,502.98 L286.65,500.45 L289.48,497.28 L292.30,494.36 L295.13,491.94 L297.96,488.59 L300.78,485.93 L303.61,483.05 L306.44,480.19 L309.26,477.26 L312.09,474.25 L314.91,471.25 L317.74,468.06 L320.57,464.93 L323.39,462.14 L326.22,459.52 L329.05,457.51 L331.87,455.45 L334.70,454.27 L337.53,452.85 L340.35,452.04 L343.18,450.93 L346.01,449.96 L348.83,448.96 L351.66,447.93 L354.49,446.31 L357.31,444.92 L360.14,443.63 L362.97,442.20 L365.79,441.27 L368.62,440.33 L371.44,439.38 L374.27,438.19 L377.10,436.78 L379.92,435.27 L382.75,433.70 L385.58,432.01 L388.40,431.12 L391.23,430.21 L394.06,429.45 L396.88,428.36 L399.71,427.72 L402.54,427.22 L405.36,426.70 L408.19,426.17 L411.02,425.87 L413.84,425.64 L416.67,425.54 L419.50,425.77 L422.32,425.50 L425.15,424.99 L427.97,424.25 L430.80,423.55 L433.63,422.64 L436.45,421.31 L439.28,419.82 L442.11,419.33 L444.93,419.88 L447.76,419.31 L450.59,416.67 L453.41,416.30 L456.24,414.63 L459.07,413.53 L461.89,412.51 L464.72,411.38 L467.55,410.43 L470.37,409.47 L473.20,408.51 L476.03,407.63 L478.85,407.24 L481.68,407.71 L484.50,407.87 L487.33,407.88 L490.16,407.56 L492.98,407.74 L495.81,407.60 L498.64,407.72 L501.46,408.90 L504.29,410.37 L507.12,411.85 L509.94,413.83 L512.77,415.83 L515.60,417.97 L518.42,420.12 L521.25,421.85 L524.08,424.23 L526.90,425.81 L529.73,427.51 L532.56,429.57 L535.38,431.99 L538.21,434.41 L541.03,436.14 L543.86,438.02 L546.69,440.14 L549.51,442.12 L552.34,444.82 L555.17,447.77 L557.99,450.77 L560.82,454.06 L563.65,457.12 L566.47,460.11 L569.30,463.08 L572.13,465.53 L574.95,468.22 L577.78,471.05 L580.61,473.76 L583.43,476.79 L586.26,479.65 L589.09,483.15 L591.91,486.49 L594.74,489.55 L597.56,492.06 L600.39,493.46 L603.22,495.54 L606.04,499.53 L608.87,501.99 L611.70,505.66 L614.52,509.10 L617.35,512.54 L620.18,516.59 L623.00,520.20 L625.83,524.14 L628.66,528.31 L631.48,532.19 L634.31,535.32 L637.14,537.17 L639.96,539.34 L642.79,541.55 L645.62,543.65 L648.44,545.48 L651.27,546.97 L654.09,548.52 L656.92,549.13 L659.75,549.42 L662.57,549.42 L665.40,549.58 L668.23,550.01 L671.05,549.76 L673.88,549.60 L676.71,549.57 L679.53,549.16 L682.36,549.33 L685.19,549.22 L688.01,549.25 L690.84,548.86 L693.67,548.30 L696.49,547.89 L699.32,546.53 L702.15,545.17 L704.97,543.62 L707.80,541.87 L710.62,539.43 L713.45,537.29 L716.28,535.09 L719.10,532.84 L721.93,530.65 L724.76,528.49 L727.58,525.93 L730.41,523.80 L733.24,521.59 L736.06,519.38 L738.89,516.44 L741.72,513.10 L744.54,509.40 L747.37,506.31 L750.20,503.54 L753.02,500.73 L755.85,497.58 L758.68,494.45 L761.50,491.24 L764.33,486.80 L767.15,481.92 L769.98,476.41 L772.81,471.64 L775.63,467.01 L778.46,462.22 L781.29,456.49 L784.11,450.59 L786.94,444.91 L789.77,439.02 L792.59,433.10 L795.42,426.56 L798.25,420.74 L801.07,415.26 L803.90,409.61 L806.73,404.45 L809.55,397.99 L812.38,391.42 L815.21,384.58 L818.03,378.33 L820.86,371.47 L823.68,363.01 L826.51,355.18 L829.34,347.29 L832.16,339.22 L834.99,331.97 L837.82,325.24 L840.64,318.51 L843.47,313.27 L846.30,308.06 L849.12,303.27 L851.95,299.52 L854.78,295.94 L857.60,292.39 L860.43,289.10 L863.26,286.01 L866.08,283.08 L868.91,280.65 L871.74,278.06 L874.56,275.57 L877.39,272.40 L880.21,269.20 L883.04,266.49 L885.87,262.51 L888.69,259.07 L891.52,255.75 L894.35,253.25 L897.17,251.41 L900.00,250.01 L902.83,248.50 L905.65,247.36 L908.48,246.12 L911.31,245.35 L914.13,245.03 L916.96,244.35 L919.79,244.35 L922.61,244.11 L925.44,244.22 L928.27,244.03 L931.09,243.75 L933.92,243.46 L936.74,243.99 L939.57,244.99 L942.40,246.70 L945.22,248.31 L948.05,250.42 L950.88,252.85 L953.70,254.36 L956.53,255.34 L959.36,256.30 L962.18,256.87 L965.01,258.10 L967.84,259.61 L970.66,261.20 L973.49,262.32 L976.32,263.75 L979.14,266.30 L981.97,268.77 L984.80,271.27 L987.62,274.57 L990.45,277.03 L993.27,279.81 L996.10,282.79 L998.93,284.10 L1001.75,285.31 L1004.58,286.71 L1007.41,287.79 L1010.23,289.24 L1013.06,290.18 L1015.89,290.94 L1018.71,291.09 L1021.54,291.31 L1024.37,290.60 L1027.19,289.78 L1030.02,288.80 L1032.85,288.41 L1035.67,288.27 L1038.50,288.74 L1041.33,289.49 L1044.15,289.54 L1046.98,289.65 L1049.80,289.48 L1052.63,288.30 L1055.46,286.88 L1058.28,285.27 L1061.11,283.86 L1063.94,282.40 L1066.76,281.29 L1069.59,279.88 L1072.42,279.05 L1075.24,278.34 L1078.07,277.82 L1080.90,277.22 L1083.72,276.28 L1086.55,275.24" stroke="#ff0000" stroke-width="1.55" fill="none" stroke-linejoin="round"/><path d="M4.00,548.03 L6.83,547.97 L9.65,547.85 L12.48,547.65 L15.31,547.03 L18.13,545.05 L20.96,543.09 L23.79,540.18 L26.61,537.10 L29.44,533.87 L32.27,532.05 L35.09,526.79 L37.92,522.91 L40.74,519.59 L43.57,517.49 L46.40,515.69 L49.22,512.94 L52.05,510.91 L54.88,508.77 L57.70,511.51 L60.53,515.37 L63.36,519.54 L66.18,524.70 L69.01,529.62 L71.84,534.93 L74.66,540.16 L77.49,547.19 L80.32,550.45 L83.14,555.11 L85.97,558.58 L88.79,560.53 L91.62,564.14 L94.45,566.05 L97.27,566.58 L100.10,568.31 L102.93,571.07 L105.75,574.45 L108.58,579.27 L111.41,582.94 L114.23,585.84 L117.06,587.91 L119.89,590.26 L122.71,594.31 L125.54,597.87 L128.37,601.24 L131.19,604.75 L134.02,611.55 L136.85,617.53 L139.67,621.62 L142.50,627.77 L145.32,632.15 L148.15,637.21 L150.98,639.87 L153.80,641.97 L156.63,644.32 L159.46,645.18 L162.28,646.37 L165.11,648.63 L167.94,648.38 L170.76,644.93 L173.59,640.97 L176.42,638.79 L179.24,635.89 L182.07,632.37 L184.90,628.02 L187.72,626.37 L190.55,624.35 L193.38,622.90 L196.20,620.77 L199.03,618.30 L201.85,615.76 L204.68,614.96 L207.51,613.86 L210.33,613.97 L213.16,615.83 L215.99,617.15 L218.81,617.59 L221.64,617.96 L224.47,618.48 L227.29,618.33 L230.12,618.08 L232.95,617.21 L235.77,617.42 L238.60,617.20 L241.43,617.49 L244.25,618.37 L247.08,619.55 L249.91,620.78 L252.73,621.40 L255.56,622.02 L258.38,623.15 L261.21,623.81 L264.04,624.49 L266.86,624.82 L269.69,625.11 L272.52,625.22 L275.34,624.92 L278.17,624.07 L281.00,622.64 L283.82,619.97 L286.65,616.68 L289.48,610.75 L292.30,604.71 L295.13,600.41 L297.96,593.66 L300.78,587.92 L303.61,580.85 L306.44,575.04 L309.26,568.75 L312.09,559.89 L314.91,551.88 L317.74,544.07 L320.57,533.84 L323.39,524.21 L326.22,517.76 L329.05,513.22 L331.87,508.44 L334.70,505.64 L337.53,503.62 L340.35,501.46 L343.18,497.71 L346.01,496.38 L348.83,494.30 L351.66,492.32 L354.49,489.33 L357.31,487.79 L360.14,484.93 L362.97,482.87 L365.79,481.42 L368.62,482.45 L371.44,482.60 L374.27,480.97 L377.10,479.83 L379.92,479.38 L382.75,477.58 L385.58,473.29 L388.40,470.73 L391.23,469.05 L394.06,466.71 L396.88,465.14 L399.71,464.38 L402.54,464.34 L405.36,464.29 L408.19,463.40 L411.02,462.70 L413.84,462.49 L416.67,462.25 L419.50,462.60 L422.32,462.26 L425.15,461.30 L427.97,459.85 L430.80,457.45 L433.63,456.56 L436.45,454.71 L439.28,453.32 L442.11,452.36 L444.93,455.00 L447.76,453.77 L450.59,462.39 L453.41,462.06 L456.24,462.91 L459.07,462.04 L461.89,462.11 L464.72,462.61 L467.55,461.73 L470.37,461.63 L473.20,462.48 L476.03,462.31 L478.85,461.68 L481.68,462.72 L484.50,463.07 L487.33,463.10 L490.16,462.22 L492.98,462.62 L495.81,462.06 L498.64,462.60 L501.46,468.07 L504.29,475.73 L507.12,482.41 L509.94,490.17 L512.77,497.11 L515.60,505.73 L518.42,512.45 L521.25,517.74 L524.08,523.63 L526.90,526.45 L529.73,530.15 L532.56,534.19 L535.38,538.69 L538.21,543.46 L541.03,546.15 L543.86,550.74 L546.69,555.37 L549.51,560.16 L552.34,565.90 L555.17,573.38 L557.99,580.01 L560.82,587.57 L563.65,594.80 L566.47,602.38 L569.30,608.58 L572.13,613.61 L574.95,619.45 L577.78,624.43 L580.61,628.62 L583.43,633.27 L586.26,638.04 L589.09,642.64 L591.91,645.63 L594.74,646.78 L597.56,648.79 L600.39,650.64 L603.22,651.49 L606.04,646.49 L608.87,647.09 L611.70,645.49 L614.52,645.77 L617.35,644.69 L620.18,643.67 L623.00,643.22 L625.83,641.67 L628.66,637.92 L631.48,634.34 L634.31,632.17 L637.14,630.25 L639.96,627.72 L642.79,623.60 L645.62,619.11 L648.44,614.36 L651.27,610.26 L654.09,606.85 L656.92,605.79 L659.75,605.55 L662.57,605.55 L665.40,605.43 L668.23,605.26 L671.05,605.31 L673.88,605.48 L676.71,605.52 L679.53,606.15 L682.36,605.64 L685.19,605.92 L688.01,605.87 L690.84,606.56 L693.67,607.46 L696.49,608.71 L699.32,612.14 L702.15,614.99 L704.97,617.76 L707.80,619.62 L710.62,621.23 L713.45,621.87 L716.28,620.81 L719.10,619.60 L721.93,617.15 L724.76,615.64 L727.58,616.26 L730.41,614.00 L733.24,612.48 L736.06,611.57 L738.89,611.05 L741.72,610.96 L744.54,610.67 L747.37,610.03 L750.20,610.77 L753.02,610.81 L755.85,612.35 L758.68,614.91 L761.50,617.89 L764.33,622.94 L767.15,627.07 L769.98,630.48 L772.81,631.04 L775.63,627.71 L778.46,624.58 L781.29,622.82 L784.11,620.95 L786.94,617.62 L789.77,615.26 L792.59,617.27 L795.42,619.17 L798.25,618.56 L801.07,616.40 L803.90,614.90 L806.73,612.14 L809.55,610.23 L812.38,609.66 L815.21,608.38 L818.03,606.71 L820.86,603.91 L823.68,603.73 L826.51,602.11 L829.34,600.67 L832.16,598.86 L834.99,595.27 L837.82,590.15 L840.64,584.44 L843.47,575.07 L846.30,566.29 L849.12,557.19 L851.95,549.20 L854.78,542.27 L857.60,534.98 L860.43,527.84 L863.26,520.42 L866.08,513.70 L868.91,506.86 L871.74,498.96 L874.56,491.14 L877.39,481.21 L880.21,471.48 L883.04,464.07 L885.87,452.36 L888.69,441.56 L891.52,431.02 L894.35,423.05 L897.17,416.95 L900.00,412.23 L902.83,406.51 L905.65,401.97 L908.48,396.94 L911.31,394.05 L914.13,392.85 L916.96,390.64 L919.79,390.64 L922.61,390.19 L925.44,390.38 L928.27,389.91 L931.09,389.04 L933.92,388.21 L936.74,389.40 L939.57,391.62 L942.40,396.81 L945.22,400.58 L948.05,403.90 L950.88,406.57 L953.70,408.40 L956.53,409.60 L959.36,410.33 L962.18,410.90 L965.01,410.94 L967.84,410.37 L970.66,409.34 L973.49,408.55 L976.32,407.14 L979.14,401.02 L981.97,395.64 L984.80,388.44 L987.62,378.54 L990.45,370.53 L993.27,364.05 L996.10,356.03 L998.93,355.64 L1001.75,354.13 L1004.58,354.22 L1007.41,356.05 L1010.23,358.23 L1013.06,359.00 L1015.89,359.80 L1018.71,359.94 L1021.54,360.09 L1024.37,359.04 L1027.19,357.75 L1030.02,356.29 L1032.85,355.88 L1035.67,355.77 L1038.50,356.36 L1041.33,356.25 L1044.15,356.24 L1046.98,356.20 L1049.80,356.16 L1052.63,356.63 L1055.46,356.58 L1058.28,355.97 L1061.11,353.82 L1063.94,351.90 L1066.76,349.75 L1069.59,346.70 L1072.42,345.62 L1075.24,344.98 L1078.07,345.08 L1080.90,345.21 L1083.72,345.06 L1086.55,343.34" stroke="#ff0000" stroke-width="1.55" fill="none" stroke-linejoin="round"/><path d="M4.00,516.60 C5.65,515.08 9.93,511.33 13.90,507.50 C17.87,503.67 23.17,498.00 27.80,493.60 C32.43,489.20 37.07,485.15 41.70,481.10 C46.33,477.05 50.98,472.53 55.60,469.30 C60.22,466.07 64.78,464.02 69.40,461.70 C74.02,459.38 78.67,457.48 83.30,455.40 C87.93,453.32 92.57,450.93 97.20,449.20 C101.83,447.47 106.35,446.28 111.10,445.00 C115.85,443.72 121.07,441.50 125.70,441.50 C130.33,441.50 134.85,443.92 138.90,445.00 C142.95,446.08 145.15,446.23 150.00,448.00 C154.85,449.77 161.58,454.00 168.00,455.60 C174.42,457.20 181.88,456.95 188.50,457.60 C195.12,458.25 201.30,459.08 207.70,459.50 C214.10,459.92 220.07,459.93 226.90,460.10 C233.73,460.27 242.28,460.13 248.70,460.50 C255.12,460.87 259.85,461.65 265.40,462.30 C270.95,462.95 276.23,464.07 282.00,464.40 C287.77,464.73 294.33,464.37 300.00,464.30 C305.67,464.23 310.67,464.58 316.00,464.00 C321.33,463.42 326.67,461.65 332.00,460.80 C337.33,459.95 342.67,459.48 348.00,458.90 C353.33,458.32 358.67,457.88 364.00,457.30 C369.33,456.72 375.18,455.72 380.00,455.40 C384.82,455.08 387.57,454.77 392.90,455.40 C398.23,456.03 406.13,458.03 412.00,459.20 C417.87,460.37 423.55,461.65 428.10,462.40 C432.65,463.15 436.95,463.42 439.28,463.72 C441.62,464.02 441.17,464.01 442.11,464.21 C443.05,464.40 443.99,464.75 444.93,464.90 C445.88,465.05 446.82,465.13 447.76,465.10 C448.70,465.08 449.64,464.74 450.59,464.75 C451.53,464.76 452.47,465.11 453.41,465.18 C454.36,465.25 455.30,465.17 456.24,465.16 C457.18,465.15 458.12,465.14 459.07,465.10 C460.01,465.07 460.95,465.02 461.89,464.97 C462.84,464.92 463.78,464.83 464.72,464.80 C465.66,464.78 466.60,464.87 467.55,464.80 C468.49,464.74 469.43,464.56 470.37,464.42 C471.31,464.29 472.26,464.13 473.20,463.99 C474.14,463.84 475.08,463.65 476.03,463.55 C476.97,463.46 477.91,463.42 478.85,463.40 C479.79,463.39 480.74,463.44 481.68,463.45 C482.62,463.46 483.56,463.51 484.50,463.46 C485.45,463.42 486.39,463.26 487.33,463.17 C488.27,463.09 489.22,463.04 490.16,462.96 C491.10,462.87 492.04,462.77 492.98,462.66 C493.93,462.54 494.87,462.40 495.81,462.28 C496.75,462.15 497.70,461.99 498.64,461.91 C499.58,461.83 500.52,461.81 501.46,461.78 C502.41,461.76 503.35,461.76 504.29,461.75 C505.23,461.75 506.17,461.78 507.12,461.76 C508.06,461.74 509.00,461.68 509.94,461.65 C510.89,461.62 511.83,461.61 512.77,461.58 C513.71,461.55 514.65,461.49 515.60,461.47 C516.54,461.45 517.48,461.47 518.42,461.44 C519.37,461.42 520.31,461.33 521.25,461.31 C522.19,461.30 523.13,461.36 524.08,461.34 C525.02,461.33 525.96,461.27 526.90,461.23 C527.84,461.19 528.79,461.14 529.73,461.13 C530.67,461.11 531.61,461.11 532.56,461.16 C533.50,461.22 534.44,461.34 535.38,461.43 C536.32,461.52 537.27,461.67 538.21,461.73 C539.15,461.78 540.09,461.74 541.03,461.78 C541.98,461.82 542.92,461.93 543.86,461.96 C544.80,462.00 545.75,461.97 546.69,461.99 C547.63,462.01 548.57,462.03 549.51,462.11 C550.46,462.18 551.40,462.31 552.34,462.45 C553.28,462.59 554.23,462.79 555.17,462.93 C556.11,463.08 557.05,463.19 557.99,463.30 C558.94,463.41 559.88,463.51 560.82,463.60 C561.76,463.70 562.70,463.79 563.65,463.86 C564.59,463.93 565.53,464.00 566.47,464.03 C567.42,464.06 568.36,464.09 569.30,464.05 C570.24,464.00 571.18,463.85 572.13,463.78 C573.07,463.72 574.01,463.67 574.95,463.65 C575.90,463.62 576.84,463.66 577.78,463.62 C578.72,463.57 579.66,463.40 580.61,463.35 C581.55,463.29 582.49,463.31 583.43,463.28 C584.37,463.25 585.32,463.18 586.26,463.17 C587.20,463.16 588.14,463.21 589.09,463.20 C590.03,463.19 590.97,463.19 591.91,463.11 C592.85,463.04 593.80,462.86 594.74,462.77 C595.68,462.67 596.62,462.61 597.56,462.52 C598.51,462.43 599.45,462.37 600.39,462.25 C601.33,462.14 602.28,461.96 603.22,461.83 C604.16,461.70 605.10,461.53 606.04,461.45 C606.99,461.37 607.93,461.35 608.87,461.36 C609.81,461.37 610.76,461.44 611.70,461.50 C612.64,461.57 613.58,461.65 614.52,461.76 C615.47,461.86 616.41,461.96 617.35,462.12 C618.29,462.27 619.23,462.49 620.18,462.68 C621.12,462.87 622.06,463.06 623.00,463.24 C623.95,463.42 624.89,463.55 625.83,463.74 C626.77,463.94 627.71,464.21 628.66,464.42 C629.60,464.64 630.54,464.85 631.48,465.05 C632.43,465.25 633.37,465.50 634.31,465.63 C635.25,465.77 636.19,465.77 637.14,465.88 C638.08,465.99 639.02,466.17 639.96,466.29 C640.90,466.41 641.85,466.49 642.79,466.60 C643.73,466.70 644.67,466.81 645.62,466.93 C646.56,467.05 647.50,467.15 648.44,467.30 C649.38,467.45 650.33,467.63 651.27,467.81 C652.21,468.00 653.15,468.24 654.09,468.39 C655.04,468.54 655.98,468.60 656.92,468.71 C657.86,468.83 658.81,468.97 659.75,469.08 C660.69,469.19 661.63,469.25 662.57,469.35 C663.52,469.45 664.46,469.57 665.40,469.68 C666.34,469.78 667.29,469.87 668.23,469.97 C669.17,470.08 670.11,470.19 671.05,470.30 C672.00,470.42 672.94,470.54 673.88,470.65 C674.82,470.75 675.76,470.85 676.71,470.94 C677.65,471.03 678.59,471.09 679.53,471.19 C680.48,471.29 681.42,471.39 682.36,471.51 C683.30,471.64 684.24,471.77 685.19,471.93 C686.13,472.08 687.07,472.30 688.01,472.44 C688.96,472.58 689.90,472.66 690.84,472.77 C691.78,472.88 692.72,472.98 693.67,473.08 C694.61,473.18 695.55,473.30 696.49,473.37 C697.43,473.43 698.38,473.40 699.32,473.45 C700.26,473.50 701.20,473.61 702.15,473.66 C703.09,473.71 704.03,473.74 704.97,473.76 C705.91,473.79 706.86,473.82 707.80,473.82 C708.74,473.81 709.68,473.76 710.62,473.73 C711.57,473.70 712.51,473.65 713.45,473.65 C714.39,473.66 715.34,473.75 716.28,473.76 C717.22,473.78 718.16,473.75 719.10,473.76 C720.05,473.78 720.99,473.81 721.93,473.85 C722.87,473.89 723.82,473.98 724.76,474.00 C725.70,474.01 726.64,473.93 727.58,473.95 C728.53,473.96 729.47,474.06 730.41,474.09 C731.35,474.13 732.29,474.11 733.24,474.14 C734.18,474.17 735.12,474.28 736.06,474.27 C737.01,474.27 737.95,474.18 738.89,474.10 C739.83,474.03 740.77,473.92 741.72,473.83 C742.66,473.74 743.60,473.63 744.54,473.57 C745.49,473.50 746.43,473.49 747.37,473.42 C748.31,473.35 749.25,473.23 750.20,473.16 C751.14,473.09 752.08,473.05 753.02,472.98 C753.96,472.91 754.91,472.84 755.85,472.73 C756.79,472.61 757.73,472.46 758.68,472.31 C759.62,472.15 760.56,471.99 761.50,471.78 C762.44,471.57 763.39,471.31 764.33,471.04 C765.27,470.77 766.21,470.47 767.15,470.17 C768.10,469.86 769.04,469.51 769.98,469.19 C770.92,468.88 771.87,468.53 772.81,468.28 C773.75,468.03 774.69,467.95 775.63,467.71 C776.58,467.47 777.52,467.18 778.46,466.85 C779.40,466.52 780.35,466.08 781.29,465.72 C782.23,465.35 783.17,465.00 784.11,464.65 C785.06,464.30 786.00,463.98 786.94,463.61 C787.88,463.25 788.82,462.88 789.77,462.47 C790.71,462.07 791.65,461.64 792.59,461.19 C793.54,460.74 794.48,460.23 795.42,459.77 C796.36,459.32 797.30,458.87 798.25,458.47 C799.19,458.07 800.13,457.77 801.07,457.37 C802.02,456.97 802.96,456.45 803.90,456.07 C804.84,455.69 805.78,455.48 806.73,455.08 C807.67,454.69 808.61,454.19 809.55,453.70 C810.49,453.20 811.44,452.64 812.38,452.12 C813.32,451.59 814.26,451.05 815.21,450.56 C816.15,450.06 817.09,449.64 818.03,449.15 C818.97,448.65 819.92,448.20 820.86,447.59 C821.80,446.98 822.74,446.19 823.68,445.49 C824.63,444.78 825.57,444.07 826.51,443.36 C827.45,442.65 828.40,441.96 829.34,441.22 C830.28,440.48 831.22,439.63 832.16,438.92 C833.11,438.21 834.05,437.61 834.99,436.99 C835.93,436.36 836.88,435.76 837.82,435.15 C838.76,434.54 839.70,433.85 840.64,433.35 C841.59,432.86 842.53,432.60 843.47,432.19 C844.41,431.77 845.35,431.30 846.30,430.86 C847.24,430.43 848.18,429.95 849.12,429.58 C850.07,429.20 851.01,428.97 851.95,428.61 C852.89,428.26 853.83,427.85 854.78,427.46 C855.72,427.08 856.66,426.68 857.60,426.33 C858.55,425.98 859.49,425.67 860.43,425.36 C861.37,425.06 862.31,424.79 863.26,424.50 C864.20,424.22 865.14,423.90 866.08,423.64 C867.02,423.38 867.97,423.15 868.91,422.95 C869.85,422.75 870.79,422.61 871.74,422.46 C872.68,422.31 873.62,422.20 874.56,422.05 C875.50,421.89 876.45,421.76 877.39,421.54 C878.33,421.32 879.27,421.06 880.21,420.73 C881.16,420.39 882.10,419.90 883.04,419.52 C883.98,419.14 884.93,418.67 885.87,418.46 C886.81,418.24 887.75,418.41 888.69,418.22 C889.64,418.02 890.58,417.53 891.52,417.30 C892.46,417.07 893.41,417.01 894.35,416.84 C895.29,416.68 896.23,416.46 897.17,416.31 C898.12,416.15 899.06,416.02 900.00,415.91 C900.94,415.79 901.88,415.73 902.83,415.63 C903.77,415.52 904.71,415.40 905.65,415.29 C906.60,415.19 907.54,415.09 908.48,415.02 C909.42,414.94 910.36,414.90 911.31,414.83 C912.25,414.76 913.19,414.75 914.13,414.61 C915.08,414.47 916.02,414.23 916.96,413.98 C917.90,413.72 918.84,413.39 919.79,413.07 C920.73,412.75 921.67,412.38 922.61,412.06 C923.55,411.73 924.50,411.42 925.44,411.12 C926.38,410.82 927.32,410.52 928.27,410.25 C929.21,409.98 930.15,409.79 931.09,409.52 C932.03,409.24 932.98,408.93 933.92,408.61 C934.86,408.29 935.80,407.97 936.74,407.62 C937.69,407.26 938.63,406.83 939.57,406.49 C940.51,406.14 941.46,405.88 942.40,405.54 C943.34,405.20 944.28,404.83 945.22,404.44 C946.17,404.06 947.11,403.62 948.05,403.21 C948.99,402.79 949.94,402.41 950.88,401.94 C951.82,401.48 952.76,400.92 953.70,400.42 C954.65,399.91 955.59,399.41 956.53,398.90 C957.47,398.38 958.41,397.86 959.36,397.32 C960.30,396.79 961.24,396.22 962.18,395.69 C963.13,395.17 964.07,394.71 965.01,394.19 C965.95,393.66 966.89,393.10 967.84,392.54 C968.78,391.98 969.72,391.41 970.66,390.81 C971.61,390.21 972.55,389.57 973.49,388.94 C974.43,388.31 975.37,387.66 976.32,387.04 C977.26,386.42 978.20,385.85 979.14,385.22 C980.08,384.60 981.03,383.96 981.97,383.30 C982.91,382.65 983.85,381.94 984.80,381.30 C985.74,380.66 986.68,380.11 987.62,379.47 C988.56,378.83 989.51,378.10 990.45,377.45 C991.39,376.80 992.33,376.17 993.27,375.55 C994.22,374.93 995.16,374.36 996.10,373.75 C997.04,373.14 997.99,372.52 998.93,371.88 C999.87,371.24 1000.81,370.53 1001.75,369.90 C1002.70,369.26 1003.64,368.63 1004.58,368.05 C1005.52,367.47 1006.47,366.94 1007.41,366.42 C1008.35,365.89 1009.29,365.45 1010.23,364.91 C1011.18,364.37 1012.12,363.73 1013.06,363.15 C1014.00,362.58 1014.94,362.03 1015.89,361.45 C1016.83,360.87 1017.77,360.29 1018.71,359.68 C1019.66,359.08 1020.60,358.46 1021.54,357.83 C1022.48,357.19 1023.42,356.53 1024.37,355.87 C1025.31,355.20 1026.25,354.51 1027.19,353.85 C1028.14,353.19 1029.08,352.51 1030.02,351.90 C1030.96,351.29 1031.90,350.75 1032.85,350.17 C1033.79,349.59 1034.73,348.96 1035.67,348.41 C1036.61,347.86 1037.56,347.39 1038.50,346.88 C1039.44,346.36 1040.38,345.87 1041.33,345.34 C1042.27,344.81 1043.21,344.27 1044.15,343.70 C1045.09,343.14 1046.04,342.55 1046.98,341.95 C1047.92,341.36 1048.86,340.80 1049.80,340.13 C1050.75,339.47 1051.69,338.67 1052.63,337.96 C1053.57,337.24 1054.52,336.57 1055.46,335.83 C1056.40,335.10 1057.34,334.28 1058.28,333.55 C1059.23,332.81 1060.17,332.15 1061.11,331.43 C1062.05,330.71 1063.00,329.95 1063.94,329.24 C1064.88,328.53 1065.82,327.87 1066.76,327.18 C1067.71,326.48 1068.65,325.77 1069.59,325.08 C1070.53,324.40 1071.47,323.69 1072.42,323.04 C1073.36,322.40 1074.30,321.86 1075.24,321.23 C1076.19,320.60 1077.13,319.91 1078.07,319.26 C1079.01,318.61 1079.95,317.98 1080.90,317.33 C1081.84,316.68 1082.78,316.00 1083.72,315.38 C1084.67,314.76 1086.08,313.92 1086.55,313.62" stroke="#0000ff" stroke-width="1.8" fill="none"/><rect x="824.2" y="206.6" width="375.3" height="146.5" fill="none" stroke="#780000" stroke-width="2.2"/><ellipse cx="1087" cy="313.7" rx="13.6" ry="8.0" fill="none" stroke="#ff7070" stroke-width="0.9"/><ellipse cx="1088.6" cy="348.1" rx="13.2" ry="9.8" fill="none" stroke="#ff7070" stroke-width="0.9"/><path d="M1102.11,277.15 L1133.89,213.91 L1135.33,214.61 L1136.00,206.60 L1130.11,212.08 L1131.55,212.78 L1101.49,276.85Z" fill="#7f7f7f"/><path d="M1137.11,203.67 L1158.34,166.80 L1159.75,167.57 L1160.80,159.60 L1154.66,164.79 L1156.06,165.56 L1136.49,203.33Z" fill="#7f7f7f"/><path d="M1101.53,277.23 L1123.33,304.15 L1122.12,305.19 L1129.20,309.00 L1126.52,301.42 L1125.31,302.46 L1102.07,276.77Z" fill="#7f7f7f"/><path d="M1129.54,310.03 L1162.09,348.80 L1160.88,349.85 L1168.00,353.60 L1165.26,346.04 L1164.05,347.09 L1130.06,309.57Z" fill="#7f7f7f"/><circle cx="831" cy="154.7" r="7" fill="#ff3434"/><text x="831" y="157.9" font-size="8.8" font-weight="bold" fill="#fff" text-anchor="middle">1</text><circle cx="838.7" cy="48.3" r="7" fill="#ff3434"/><text x="838.7" y="51.5" font-size="8.8" font-weight="bold" fill="#fff" text-anchor="middle">2</text><circle cx="877.7" cy="362.1" r="7" fill="#ff3434"/><text x="877.7" y="365.3" font-size="8.8" font-weight="bold" fill="#fff" text-anchor="middle">3</text><circle cx="922.7" cy="247.8" r="7" fill="#ff3434"/><text x="922.7" y="251.0" font-size="8.8" font-weight="bold" fill="#fff" text-anchor="middle">4</text><circle cx="939" cy="389.9" r="7" fill="#ff3434"/><text x="939" y="393.1" font-size="8.8" font-weight="bold" fill="#fff" text-anchor="middle">5</text><text x="976.1" y="197.9" font-size="12" fill="#3d6ee0" text-anchor="middle">1?</text></g><g clip-path="url(#cd)"><path d="M3.10,700.75h1.8V722.40h-1.8ZM5.93,703.51h1.8V722.40h-1.8ZM8.75,707.70h1.8V722.40h-1.8ZM11.58,709.18h1.8V722.40h-1.8ZM14.41,708.93h1.8V722.40h-1.8ZM17.23,710.12h1.8V722.40h-1.8ZM20.06,714.14h1.8V722.40h-1.8ZM22.89,717.54h1.8V722.40h-1.8ZM25.71,720.02h1.8V722.40h-1.8ZM28.54,721.58h1.8V722.40h-1.8ZM31.37,722.40h1.8V726.66h-1.8ZM34.19,722.40h1.8V730.10h-1.8ZM37.02,722.40h1.8V733.93h-1.8ZM39.84,722.40h1.8V735.91h-1.8ZM42.67,722.40h1.8V737.30h-1.8ZM45.50,722.40h1.8V738.14h-1.8ZM48.32,722.40h1.8V741.56h-1.8ZM51.15,722.40h1.8V743.37h-1.8ZM53.98,722.40h1.8V746.19h-1.8ZM56.80,722.40h1.8V750.25h-1.8ZM59.63,722.40h1.8V754.10h-1.8ZM62.46,722.40h1.8V756.59h-1.8ZM65.28,722.40h1.8V758.81h-1.8ZM68.11,722.40h1.8V759.39h-1.8ZM70.94,722.40h1.8V761.55h-1.8ZM73.76,722.40h1.8V762.23h-1.8ZM76.59,722.40h1.8V764.52h-1.8ZM79.42,722.40h1.8V763.62h-1.8ZM82.24,722.40h1.8V763.02h-1.8ZM85.07,722.40h1.8V760.69h-1.8ZM87.89,722.40h1.8V757.27h-1.8ZM90.72,722.40h1.8V755.30h-1.8ZM93.55,722.40h1.8V752.13h-1.8ZM96.37,722.40h1.8V747.26h-1.8ZM99.20,722.40h1.8V743.24h-1.8ZM102.03,722.40h1.8V740.65h-1.8ZM104.85,722.40h1.8V739.29h-1.8ZM107.68,722.40h1.8V740.21h-1.8ZM110.51,722.40h1.8V740.04h-1.8ZM113.33,722.40h1.8V738.02h-1.8ZM116.16,722.40h1.8V736.42h-1.8ZM118.99,722.40h1.8V736.15h-1.8ZM121.81,722.40h1.8V737.77h-1.8ZM124.64,722.40h1.8V739.49h-1.8ZM127.47,722.40h1.8V742.49h-1.8ZM130.29,722.40h1.8V745.55h-1.8ZM133.12,722.40h1.8V750.23h-1.8ZM135.95,722.40h1.8V753.17h-1.8ZM138.77,722.40h1.8V753.07h-1.8ZM141.60,722.40h1.8V754.97h-1.8ZM144.42,722.40h1.8V754.54h-1.8ZM147.25,722.40h1.8V754.62h-1.8ZM150.08,722.40h1.8V753.08h-1.8ZM152.90,722.40h1.8V751.61h-1.8ZM155.73,722.40h1.8V751.40h-1.8ZM158.56,722.40h1.8V749.95h-1.8ZM161.38,722.40h1.8V748.16h-1.8ZM164.21,722.40h1.8V747.11h-1.8ZM167.04,722.40h1.8V744.92h-1.8ZM169.86,722.40h1.8V740.85h-1.8ZM172.69,722.40h1.8V735.57h-1.8ZM175.52,722.40h1.8V731.22h-1.8ZM178.34,722.40h1.8V725.61h-1.8ZM181.17,720.57h1.8V722.40h-1.8ZM184.00,716.45h1.8V722.40h-1.8ZM186.82,714.52h1.8V722.40h-1.8ZM189.65,710.72h1.8V722.40h-1.8ZM192.48,708.52h1.8V722.40h-1.8ZM195.30,706.75h1.8V722.40h-1.8ZM198.13,706.70h1.8V722.40h-1.8ZM200.95,705.52h1.8V722.40h-1.8ZM203.78,705.40h1.8V722.40h-1.8ZM206.61,705.04h1.8V722.40h-1.8ZM209.43,703.83h1.8V722.40h-1.8ZM212.26,700.81h1.8V722.40h-1.8ZM215.09,699.36h1.8V722.40h-1.8ZM217.91,700.30h1.8V722.40h-1.8ZM220.74,701.18h1.8V722.40h-1.8ZM223.57,701.75h1.8V722.40h-1.8ZM226.39,703.21h1.8V722.40h-1.8ZM229.22,705.92h1.8V722.40h-1.8ZM232.05,706.53h1.8V722.40h-1.8ZM234.87,706.29h1.8V722.40h-1.8ZM237.70,706.81h1.8V722.40h-1.8ZM240.53,706.79h1.8V722.40h-1.8ZM243.35,705.67h1.8V722.40h-1.8ZM246.18,703.79h1.8V722.40h-1.8ZM249.01,702.53h1.8V722.40h-1.8ZM251.83,702.96h1.8V722.40h-1.8ZM254.66,703.47h1.8V722.40h-1.8ZM257.49,702.84h1.8V722.40h-1.8ZM260.31,703.35h1.8V722.40h-1.8ZM263.14,702.57h1.8V722.40h-1.8ZM265.96,703.11h1.8V722.40h-1.8ZM268.79,704.74h1.8V722.40h-1.8ZM271.62,706.73h1.8V722.40h-1.8ZM274.44,709.34h1.8V722.40h-1.8ZM277.27,710.21h1.8V722.40h-1.8ZM280.10,712.15h1.8V722.40h-1.8ZM282.92,713.73h1.8V722.40h-1.8ZM285.75,713.42h1.8V722.40h-1.8ZM288.58,712.92h1.8V722.40h-1.8ZM291.40,713.36h1.8V722.40h-1.8ZM294.23,714.02h1.8V722.40h-1.8ZM297.06,712.79h1.8V722.40h-1.8ZM299.88,713.43h1.8V722.40h-1.8ZM302.71,713.87h1.8V722.40h-1.8ZM305.54,713.19h1.8V722.40h-1.8ZM308.36,712.50h1.8V722.40h-1.8ZM311.19,712.99h1.8V722.40h-1.8ZM314.01,712.56h1.8V722.40h-1.8ZM316.84,711.15h1.8V722.40h-1.8ZM319.67,711.10h1.8V722.40h-1.8ZM322.49,711.60h1.8V722.40h-1.8ZM325.32,710.84h1.8V722.40h-1.8ZM328.15,711.19h1.8V722.40h-1.8ZM330.97,711.33h1.8V722.40h-1.8ZM333.80,713.42h1.8V722.40h-1.8ZM336.63,713.46h1.8V722.40h-1.8ZM339.45,716.18h1.8V722.40h-1.8ZM342.28,718.23h1.8V722.40h-1.8ZM345.11,718.13h1.8V722.40h-1.8ZM347.93,718.62h1.8V722.40h-1.8ZM350.76,718.74h1.8V722.40h-1.8ZM353.59,717.33h1.8V722.40h-1.8ZM356.41,716.02h1.8V722.40h-1.8ZM359.24,716.15h1.8V722.40h-1.8ZM362.07,715.20h1.8V722.40h-1.8ZM364.89,715.67h1.8V722.40h-1.8ZM367.72,713.78h1.8V722.40h-1.8ZM370.55,713.08h1.8V722.40h-1.8ZM373.37,713.30h1.8V722.40h-1.8ZM376.20,712.50h1.8V722.40h-1.8ZM379.02,711.21h1.8V722.40h-1.8ZM381.85,710.79h1.8V722.40h-1.8ZM384.68,711.42h1.8V722.40h-1.8ZM387.50,713.90h1.8V722.40h-1.8ZM390.33,715.00h1.8V722.40h-1.8ZM393.16,717.11h1.8V722.40h-1.8ZM395.98,716.74h1.8V722.40h-1.8ZM398.81,717.30h1.8V722.40h-1.8ZM401.64,717.20h1.8V722.40h-1.8ZM404.46,717.11h1.8V722.40h-1.8ZM407.29,718.20h1.8V722.40h-1.8ZM410.12,720.13h1.8V722.40h-1.8ZM412.94,720.74h1.8V722.40h-1.8ZM418.60,722.40h1.8V724.13h-1.8ZM421.42,722.40h1.8V723.98h-1.8ZM424.25,722.40h1.8V723.74h-1.8ZM427.07,722.40h1.8V723.02h-1.8ZM429.90,722.40h1.8V723.53h-1.8ZM432.73,721.61h1.8V722.40h-1.8ZM435.55,719.38h1.8V722.40h-1.8ZM438.38,716.86h1.8V722.40h-1.8ZM441.21,717.82h1.8V722.40h-1.8ZM444.03,722.40h1.8V722.96h-1.8ZM449.69,713.27h1.8V722.40h-1.8ZM452.51,714.46h1.8V722.40h-1.8ZM455.34,711.08h1.8V722.40h-1.8ZM458.17,710.96h1.8V722.40h-1.8ZM460.99,710.25h1.8V722.40h-1.8ZM463.82,709.07h1.8V722.40h-1.8ZM466.65,710.05h1.8V722.40h-1.8ZM469.47,709.97h1.8V722.40h-1.8ZM472.30,708.87h1.8V722.40h-1.8ZM475.13,709.40h1.8V722.40h-1.8ZM477.95,712.65h1.8V722.40h-1.8ZM480.78,717.89h1.8V722.40h-1.8ZM483.60,721.42h1.8V722.40h-1.8ZM486.43,722.40h1.8V723.32h-1.8ZM489.26,722.40h1.8V725.15h-1.8ZM492.08,722.40h1.8V727.08h-1.8ZM494.91,722.40h1.8V729.67h-1.8ZM497.74,722.40h1.8V732.69h-1.8ZM500.56,722.40h1.8V737.92h-1.8ZM503.39,722.40h1.8V743.70h-1.8ZM506.22,722.40h1.8V747.67h-1.8ZM509.04,722.40h1.8V751.24h-1.8ZM511.87,722.40h1.8V753.53h-1.8ZM514.70,722.40h1.8V756.69h-1.8ZM517.52,722.40h1.8V757.66h-1.8ZM520.35,722.40h1.8V757.28h-1.8ZM523.18,722.40h1.8V757.20h-1.8ZM526.00,722.40h1.8V753.77h-1.8ZM528.83,722.40h1.8V751.96h-1.8ZM531.66,722.40h1.8V750.76h-1.8ZM534.48,722.40h1.8V750.31h-1.8ZM537.31,722.40h1.8V750.13h-1.8ZM540.13,722.40h1.8V747.38h-1.8ZM542.96,722.40h1.8V747.48h-1.8ZM545.79,722.40h1.8V747.44h-1.8ZM548.61,722.40h1.8V747.61h-1.8ZM551.44,722.40h1.8V748.63h-1.8ZM554.27,722.40h1.8V751.05h-1.8ZM557.09,722.40h1.8V752.25h-1.8ZM559.92,722.40h1.8V754.10h-1.8ZM562.75,722.40h1.8V755.22h-1.8ZM565.57,722.40h1.8V756.43h-1.8ZM568.40,722.40h1.8V755.99h-1.8ZM571.23,722.40h1.8V754.28h-1.8ZM574.05,722.40h1.8V753.75h-1.8ZM576.88,722.40h1.8V752.30h-1.8ZM579.71,722.40h1.8V750.14h-1.8ZM582.53,722.40h1.8V749.06h-1.8ZM585.36,722.40h1.8V748.22h-1.8ZM588.19,722.40h1.8V747.82h-1.8ZM591.01,722.40h1.8V745.80h-1.8ZM593.84,722.40h1.8V741.90h-1.8ZM596.66,722.40h1.8V738.99h-1.8ZM599.49,722.40h1.8V735.84h-1.8ZM602.32,722.40h1.8V731.98h-1.8ZM605.14,722.40h1.8V728.29h-1.8ZM607.97,722.40h1.8V726.89h-1.8ZM610.80,722.40h1.8V726.78h-1.8ZM613.62,722.40h1.8V728.02h-1.8ZM616.45,722.40h1.8V728.18h-1.8ZM619.28,722.40h1.8V730.23h-1.8ZM622.10,722.40h1.8V731.49h-1.8ZM624.93,722.40h1.8V732.87h-1.8ZM627.76,722.40h1.8V733.72h-1.8ZM630.58,722.40h1.8V734.17h-1.8ZM633.41,722.40h1.8V733.72h-1.8ZM636.24,722.40h1.8V730.02h-1.8ZM639.06,722.40h1.8V727.89h-1.8ZM641.89,722.40h1.8V725.42h-1.8ZM644.72,722.40h1.8V723.33h-1.8ZM647.54,721.02h1.8V722.40h-1.8ZM650.37,718.78h1.8V722.40h-1.8ZM653.19,718.46h1.8V722.40h-1.8ZM656.02,716.95h1.8V722.40h-1.8ZM658.85,716.26h1.8V722.40h-1.8ZM661.67,714.20h1.8V722.40h-1.8ZM664.50,714.12h1.8V722.40h-1.8ZM667.33,715.17h1.8V722.40h-1.8ZM670.15,714.77h1.8V722.40h-1.8ZM672.98,713.83h1.8V722.40h-1.8ZM675.81,713.03h1.8V722.40h-1.8ZM678.63,711.42h1.8V722.40h-1.8ZM681.46,709.93h1.8V722.40h-1.8ZM684.29,708.85h1.8V722.40h-1.8ZM687.11,709.38h1.8V722.40h-1.8ZM689.94,708.85h1.8V722.40h-1.8ZM692.77,708.30h1.8V722.40h-1.8ZM695.59,706.45h1.8V722.40h-1.8ZM698.42,703.42h1.8V722.40h-1.8ZM701.25,701.41h1.8V722.40h-1.8ZM704.07,699.72h1.8V722.40h-1.8ZM706.90,698.96h1.8V722.40h-1.8ZM709.73,697.41h1.8V722.40h-1.8ZM712.55,697.44h1.8V722.40h-1.8ZM715.38,698.80h1.8V722.40h-1.8ZM718.20,699.87h1.8V722.40h-1.8ZM721.03,701.99h1.8V722.40h-1.8ZM723.86,703.01h1.8V722.40h-1.8ZM726.68,701.19h1.8V722.40h-1.8ZM729.51,703.20h1.8V722.40h-1.8ZM732.34,703.92h1.8V722.40h-1.8ZM735.16,703.97h1.8V722.40h-1.8ZM737.99,701.91h1.8V722.40h-1.8ZM740.82,699.04h1.8V722.40h-1.8ZM743.64,695.99h1.8V722.40h-1.8ZM746.47,695.20h1.8V722.40h-1.8ZM749.30,694.32h1.8V722.40h-1.8ZM752.12,694.09h1.8V722.40h-1.8ZM754.95,692.06h1.8V722.40h-1.8ZM757.78,689.66h1.8V722.40h-1.8ZM760.60,687.21h1.8V722.40h-1.8ZM763.43,681.74h1.8V722.40h-1.8ZM766.25,676.98h1.8V722.40h-1.8ZM769.08,672.27h1.8V722.40h-1.8ZM771.91,671.79h1.8V722.40h-1.8ZM774.73,674.57h1.8V722.40h-1.8ZM777.56,676.31h1.8V722.40h-1.8ZM780.39,674.48h1.8V722.40h-1.8ZM783.21,672.72h1.8V722.40h-1.8ZM786.04,672.83h1.8V722.40h-1.8ZM788.87,671.84h1.8V722.40h-1.8ZM791.69,668.29h1.8V722.40h-1.8ZM794.52,664.17h1.8V722.40h-1.8ZM797.35,664.14h1.8V722.40h-1.8ZM800.17,666.17h1.8V722.40h-1.8ZM803.00,667.01h1.8V722.40h-1.8ZM805.83,670.01h1.8V722.40h-1.8ZM808.65,668.51h1.8V722.40h-1.8ZM811.48,666.19h1.8V722.40h-1.8ZM814.31,664.19h1.8V722.40h-1.8ZM817.13,664.36h1.8V722.40h-1.8ZM819.96,663.84h1.8V722.40h-1.8ZM822.78,657.93h1.8V722.40h-1.8ZM825.61,655.58h1.8V722.40h-1.8ZM828.44,653.47h1.8V722.40h-1.8ZM831.26,651.67h1.8V722.40h-1.8ZM834.09,653.65h1.8V722.40h-1.8ZM836.92,658.02h1.8V722.40h-1.8ZM839.74,662.06h1.8V722.40h-1.8ZM842.57,673.88h1.8V722.40h-1.8ZM845.40,682.72h1.8V722.40h-1.8ZM848.22,691.69h1.8V722.40h-1.8ZM851.05,702.18h1.8V722.40h-1.8ZM853.88,709.64h1.8V722.40h-1.8ZM856.70,715.88h1.8V722.40h-1.8ZM859.53,721.67h1.8V722.40h-1.8ZM862.36,722.40h1.8V727.46h-1.8ZM865.18,722.40h1.8V731.42h-1.8ZM868.01,722.40h1.8V737.63h-1.8ZM870.84,722.40h1.8V742.64h-1.8ZM873.66,722.40h1.8V746.49h-1.8ZM876.49,722.40h1.8V747.26h-1.8ZM879.31,722.40h1.8V746.55h-1.8ZM882.14,722.40h1.8V745.05h-1.8ZM884.97,722.40h1.8V741.14h-1.8ZM887.79,722.40h1.8V739.18h-1.8ZM890.62,722.40h1.8V737.30h-1.8ZM893.45,722.40h1.8V737.06h-1.8ZM896.27,722.40h1.8V738.12h-1.8ZM899.10,722.40h1.8V739.75h-1.8ZM901.93,722.40h1.8V741.60h-1.8ZM904.75,722.40h1.8V743.91h-1.8ZM907.58,722.40h1.8V745.17h-1.8ZM910.41,722.40h1.8V745.87h-1.8ZM913.23,722.40h1.8V747.01h-1.8ZM916.06,722.40h1.8V745.03h-1.8ZM918.89,722.40h1.8V742.35h-1.8ZM921.71,722.40h1.8V738.04h-1.8ZM924.54,722.40h1.8V734.55h-1.8ZM927.37,722.40h1.8V732.91h-1.8ZM930.19,722.40h1.8V733.74h-1.8ZM933.02,722.40h1.8V733.20h-1.8ZM935.84,722.40h1.8V732.66h-1.8ZM938.67,722.40h1.8V733.30h-1.8ZM941.50,722.40h1.8V737.87h-1.8ZM944.32,722.40h1.8V739.15h-1.8ZM947.15,722.40h1.8V738.88h-1.8ZM949.98,722.40h1.8V737.91h-1.8ZM952.80,722.40h1.8V735.42h-1.8ZM955.63,722.40h1.8V732.30h-1.8ZM958.46,722.40h1.8V728.29h-1.8ZM961.28,722.40h1.8V725.00h-1.8ZM964.11,720.93h1.8V722.40h-1.8ZM966.94,717.30h1.8V722.40h-1.8ZM969.76,713.99h1.8V722.40h-1.8ZM972.59,710.47h1.8V722.40h-1.8ZM975.42,707.95h1.8V722.40h-1.8ZM978.24,705.00h1.8V722.40h-1.8ZM981.07,704.04h1.8V722.40h-1.8ZM983.90,702.66h1.8V722.40h-1.8ZM986.72,704.43h1.8V722.40h-1.8ZM989.55,704.84h1.8V722.40h-1.8ZM992.38,708.82h1.8V722.40h-1.8ZM995.20,712.92h1.8V722.40h-1.8ZM998.03,716.66h1.8V722.40h-1.8ZM1000.85,718.22h1.8V722.40h-1.8ZM1003.68,721.96h1.8V722.40h-1.8ZM1006.51,722.40h1.8V726.55h-1.8ZM1009.33,722.40h1.8V730.77h-1.8ZM1012.16,722.40h1.8V731.96h-1.8ZM1014.99,722.40h1.8V732.79h-1.8ZM1017.81,722.40h1.8V731.82h-1.8ZM1020.64,722.40h1.8V730.75h-1.8ZM1023.47,722.40h1.8V728.84h-1.8ZM1026.29,722.40h1.8V727.05h-1.8ZM1029.12,722.40h1.8V725.09h-1.8ZM1031.95,722.40h1.8V724.19h-1.8ZM1034.77,722.40h1.8V723.55h-1.8ZM1037.60,722.40h1.8V725.13h-1.8ZM1040.43,722.40h1.8V725.12h-1.8ZM1043.25,722.40h1.8V723.22h-1.8ZM1046.08,721.83h1.8V722.40h-1.8ZM1048.90,720.95h1.8V722.40h-1.8ZM1051.73,717.08h1.8V722.40h-1.8ZM1054.56,714.05h1.8V722.40h-1.8ZM1057.38,711.69h1.8V722.40h-1.8ZM1060.21,711.91h1.8V722.40h-1.8ZM1063.04,711.69h1.8V722.40h-1.8ZM1065.86,713.18h1.8V722.40h-1.8ZM1068.69,713.99h1.8V722.40h-1.8ZM1071.52,714.72h1.8V722.40h-1.8ZM1074.34,715.02h1.8V722.40h-1.8ZM1077.17,714.25h1.8V722.40h-1.8ZM1080.00,713.44h1.8V722.40h-1.8ZM1082.82,712.59h1.8V722.40h-1.8ZM1085.65,713.82h1.8V722.40h-1.8Z" fill="#858585"/><path d="M4.00,693.30 L6.83,695.67 L9.65,698.21 L12.48,700.54 L15.31,702.46 L18.13,704.04 L20.96,705.89 L23.79,707.97 L26.61,710.21 L29.44,712.52 L32.27,715.10 L35.09,717.58 L37.92,720.34 L40.74,723.33 L43.57,726.35 L46.40,729.02 L49.22,731.69 L52.05,734.28 L54.88,737.02 L57.70,739.64 L60.53,742.30 L63.36,744.82 L66.18,747.37 L69.01,749.82 L71.84,752.42 L74.66,754.72 L77.49,757.07 L80.32,759.01 L83.14,760.43 L85.97,761.16 L88.79,761.23 L91.62,760.84 L94.45,760.04 L97.27,758.45 L100.10,756.34 L102.93,753.69 L105.75,750.98 L108.58,748.45 L111.41,746.15 L114.23,744.02 L117.06,741.92 L119.89,740.14 L122.71,739.09 L125.54,738.67 L128.37,738.87 L131.19,739.57 L134.02,740.68 L136.85,742.14 L139.67,743.82 L142.50,745.88 L145.32,747.92 L148.15,749.79 L150.98,751.30 L153.80,752.31 L156.63,752.96 L159.46,752.93 L162.28,752.38 L165.11,751.71 L167.94,750.60 L170.76,749.08 L173.59,746.96 L176.42,744.53 L179.24,741.64 L182.07,738.22 L184.90,734.50 L187.72,730.76 L190.55,726.72 L193.38,722.67 L196.20,718.88 L199.03,715.67 L201.85,712.82 L204.68,710.57 L207.51,708.85 L210.33,707.44 L213.16,705.92 L215.99,704.66 L218.81,703.75 L221.64,703.13 L224.47,702.58 L227.29,702.32 L230.12,702.38 L232.95,702.54 L235.77,702.82 L238.60,703.48 L241.43,704.31 L244.25,704.91 L247.08,705.20 L249.91,705.28 L252.73,705.25 L255.56,704.98 L258.38,704.57 L261.21,704.25 L264.04,703.77 L266.86,703.37 L269.69,703.26 L272.52,703.59 L275.34,704.34 L278.17,705.15 L281.00,706.11 L283.82,707.32 L286.65,708.44 L289.48,709.59 L292.30,710.73 L295.13,711.77 L297.96,712.44 L300.78,712.89 L303.61,713.30 L306.44,713.41 L309.26,713.28 L312.09,713.23 L314.91,713.19 L317.74,712.94 L320.57,712.62 L323.39,712.49 L326.22,712.20 L329.05,711.90 L331.87,711.69 L334.70,711.80 L337.53,711.85 L340.35,712.25 L343.18,713.04 L346.01,713.82 L348.83,714.60 L351.66,715.48 L354.49,716.16 L357.31,716.68 L360.14,716.99 L362.97,717.18 L365.79,717.12 L368.62,716.63 L371.44,716.07 L374.27,715.47 L377.10,714.78 L379.92,714.10 L382.75,713.52 L385.58,712.99 L388.40,712.85 L391.23,712.77 L394.06,713.14 L396.88,713.55 L399.71,714.00 L402.54,714.52 L405.36,715.17 L408.19,716.00 L411.02,716.96 L413.84,717.73 L416.67,718.57 L419.50,719.35 L422.32,720.15 L425.15,720.87 L427.97,721.51 L430.80,722.23 L433.63,722.61 L436.45,722.52 L439.28,722.09 L442.11,721.56 L444.93,721.43 L447.76,721.28 L450.59,720.12 L453.41,719.17 L456.24,717.79 L459.07,716.60 L461.89,715.59 L464.72,714.72 L467.55,713.86 L470.37,712.42 L473.20,710.89 L476.03,710.46 L478.85,710.26 L481.68,711.01 L484.50,712.17 L487.33,713.63 L490.16,715.41 L492.98,717.31 L495.81,719.49 L498.64,722.14 L501.46,725.31 L504.29,728.76 L507.12,732.07 L509.94,735.38 L512.77,738.74 L515.60,742.24 L518.42,745.64 L521.25,748.71 L524.08,751.43 L526.90,753.20 L529.73,754.11 L532.56,754.46 L535.38,754.35 L538.21,753.97 L541.03,752.94 L543.86,751.81 L546.69,750.71 L549.51,749.65 L552.34,749.08 L555.17,748.98 L557.99,749.14 L560.82,749.56 L563.65,750.13 L566.47,751.13 L569.30,752.08 L572.13,752.84 L574.95,753.52 L577.78,753.93 L580.61,753.83 L583.43,753.47 L586.26,752.82 L589.09,752.00 L591.91,750.82 L594.74,749.25 L597.56,747.55 L600.39,745.56 L603.22,743.31 L606.04,740.88 L608.87,738.42 L611.70,736.03 L614.52,733.83 L617.35,731.88 L620.18,730.58 L623.00,729.74 L625.83,729.41 L628.66,729.61 L631.48,730.26 L634.31,731.02 L637.14,731.38 L639.96,731.36 L642.79,731.06 L645.62,730.29 L648.44,729.13 L651.27,727.56 L654.09,725.87 L656.92,723.96 L659.75,722.02 L662.57,720.26 L665.40,718.73 L668.23,717.59 L671.05,716.64 L673.88,715.84 L676.71,715.20 L679.53,714.42 L682.36,713.64 L685.19,712.81 L688.01,712.28 L690.84,711.69 L693.67,710.93 L696.49,710.01 L699.32,708.85 L702.15,707.56 L704.97,706.26 L707.80,705.04 L710.62,703.76 L713.45,702.44 L716.28,701.32 L719.10,700.38 L721.93,699.89 L724.76,699.84 L727.58,699.82 L730.41,700.21 L733.24,700.76 L736.06,701.49 L738.89,701.98 L741.72,702.01 L744.54,701.58 L747.37,700.83 L750.20,699.86 L753.02,699.07 L755.85,697.83 L758.68,696.25 L761.50,694.39 L764.33,692.14 L767.15,689.69 L769.98,687.06 L772.81,684.46 L775.63,682.26 L778.46,680.29 L781.29,678.33 L784.11,676.45 L786.94,674.85 L789.77,673.75 L792.59,672.79 L795.42,671.89 L798.25,671.04 L801.07,670.11 L803.90,669.07 L806.73,668.58 L809.55,668.11 L812.38,667.37 L815.21,666.52 L818.03,666.08 L820.86,666.05 L823.68,665.36 L826.51,664.18 L829.34,662.68 L832.16,660.64 L834.99,658.99 L837.82,658.08 L840.64,657.84 L843.47,658.90 L846.30,661.00 L849.12,664.75 L851.95,669.93 L854.78,676.17 L857.60,683.30 L860.43,690.86 L863.26,698.58 L866.08,706.28 L868.91,713.37 L871.74,720.02 L874.56,726.11 L877.39,731.12 L880.21,735.22 L883.04,738.46 L885.87,740.63 L888.69,741.93 L891.52,742.58 L894.35,742.52 L897.17,742.02 L900.00,741.27 L902.83,740.64 L905.65,740.34 L908.48,740.36 L911.31,740.88 L914.13,741.75 L916.96,742.61 L919.79,743.20 L922.61,743.19 L925.44,742.62 L928.27,741.65 L931.09,740.52 L933.92,739.19 L936.74,737.72 L939.57,736.20 L942.40,735.40 L945.22,735.05 L948.05,735.14 L950.88,735.51 L953.70,735.79 L956.53,735.63 L959.36,735.09 L962.18,734.23 L965.01,732.86 L967.84,730.57 L970.66,727.78 L973.49,724.62 L976.32,721.29 L979.14,717.91 L981.97,714.77 L984.80,711.93 L987.62,709.64 L990.45,707.85 L993.27,706.91 L996.10,706.79 L998.93,707.48 L1001.75,708.62 L1004.58,710.50 L1007.41,713.01 L1010.23,716.13 L1013.06,719.19 L1015.89,722.29 L1018.71,724.85 L1021.54,726.83 L1024.37,728.18 L1027.19,729.17 L1030.02,729.51 L1032.85,729.25 L1035.67,728.45 L1038.50,727.69 L1041.33,726.84 L1044.15,725.88 L1046.98,724.89 L1049.80,724.01 L1052.63,722.91 L1055.46,721.68 L1058.28,720.29 L1061.11,719.00 L1063.94,717.50 L1066.76,716.18 L1069.59,715.15 L1072.42,714.36 L1075.24,713.70 L1078.07,713.39 L1080.90,713.32 L1083.72,713.42 L1086.55,713.63" stroke="#ff2020" stroke-width="1.1" fill="none" stroke-dasharray="2.1 2.1"/></g><line x1="1211" y1="12.3" x2="1213" y2="12.3" stroke="#333" stroke-width="0.9"/><text x="1214.3" y="14.9" font-size="8.6" fill="#000" text-anchor="start" textLength="23.37" lengthAdjust="spacingAndGlyphs" >115.930</text><line x1="1211" y1="35.6" x2="1213" y2="35.6" stroke="#333" stroke-width="0.9"/><text x="1214.3" y="38.21" font-size="8.6" fill="#000" text-anchor="start" textLength="23.37" lengthAdjust="spacingAndGlyphs" >114.910</text><line x1="1211" y1="58.9" x2="1213" y2="58.9" stroke="#333" stroke-width="0.9"/><text x="1214.3" y="61.52" font-size="8.6" fill="#000" text-anchor="start" textLength="23.37" lengthAdjust="spacingAndGlyphs" >113.860</text><line x1="1211" y1="82.2" x2="1213" y2="82.2" stroke="#333" stroke-width="0.9"/><text x="1214.3" y="84.82999999999998" font-size="8.6" fill="#000" text-anchor="start" textLength="23.37" lengthAdjust="spacingAndGlyphs" >112.810</text><line x1="1211" y1="105.5" x2="1213" y2="105.5" stroke="#333" stroke-width="0.9"/><text x="1214.3" y="108.13999999999999" font-size="8.6" fill="#000" text-anchor="start" textLength="22.88" lengthAdjust="spacingAndGlyphs" >111.760</text><line x1="1211" y1="128.8" x2="1213" y2="128.8" stroke="#333" stroke-width="0.9"/><text x="1214.3" y="131.45" font-size="8.6" fill="#000" text-anchor="start" textLength="23.37" lengthAdjust="spacingAndGlyphs" >110.710</text><line x1="1211" y1="152.2" x2="1213" y2="152.2" stroke="#333" stroke-width="0.9"/><text x="1214.3" y="154.76" font-size="8.6" fill="#000" text-anchor="start" textLength="23.85" lengthAdjust="spacingAndGlyphs" >109.660</text><line x1="1211" y1="175.5" x2="1213" y2="175.5" stroke="#333" stroke-width="0.9"/><text x="1214.3" y="178.07" font-size="8.6" fill="#000" text-anchor="start" textLength="23.85" lengthAdjust="spacingAndGlyphs" >108.610</text><line x1="1211" y1="198.8" x2="1213" y2="198.8" stroke="#333" stroke-width="0.9"/><text x="1214.3" y="201.38" font-size="8.6" fill="#000" text-anchor="start" textLength="23.85" lengthAdjust="spacingAndGlyphs" >107.560</text><line x1="1211" y1="222.1" x2="1213" y2="222.1" stroke="#333" stroke-width="0.9"/><text x="1214.3" y="224.69" font-size="8.6" fill="#000" text-anchor="start" textLength="23.85" lengthAdjust="spacingAndGlyphs" >106.510</text><line x1="1211" y1="245.4" x2="1213" y2="245.4" stroke="#333" stroke-width="0.9"/><text x="1214.3" y="248.0" font-size="8.6" fill="#000" text-anchor="start" textLength="23.85" lengthAdjust="spacingAndGlyphs" >105.460</text><line x1="1211" y1="268.7" x2="1213" y2="268.7" stroke="#333" stroke-width="0.9"/><text x="1214.3" y="271.31" font-size="8.6" fill="#000" text-anchor="start" textLength="23.85" lengthAdjust="spacingAndGlyphs" >104.410</text><line x1="1211" y1="292.0" x2="1213" y2="292.0" stroke="#333" stroke-width="0.9"/><text x="1214.3" y="294.62" font-size="8.6" fill="#000" text-anchor="start" textLength="23.85" lengthAdjust="spacingAndGlyphs" >103.360</text><line x1="1211" y1="315.3" x2="1213" y2="315.3" stroke="#333" stroke-width="0.9"/><text x="1214.3" y="317.93" font-size="8.6" fill="#000" text-anchor="start" textLength="23.85" lengthAdjust="spacingAndGlyphs" >102.340</text><line x1="1211" y1="338.6" x2="1213" y2="338.6" stroke="#333" stroke-width="0.9"/><text x="1214.3" y="341.24" font-size="8.6" fill="#000" text-anchor="start" textLength="23.85" lengthAdjust="spacingAndGlyphs" >101.290</text><line x1="1211" y1="361.9" x2="1213" y2="361.9" stroke="#333" stroke-width="0.9"/><text x="1214.3" y="364.55" font-size="8.6" fill="#000" text-anchor="start" textLength="23.85" lengthAdjust="spacingAndGlyphs" >100.240</text><line x1="1211" y1="385.3" x2="1213" y2="385.3" stroke="#333" stroke-width="0.9"/><text x="1214.3" y="387.86" font-size="8.6" fill="#000" text-anchor="start" textLength="20.18" lengthAdjust="spacingAndGlyphs" >99.190</text><line x1="1211" y1="408.6" x2="1213" y2="408.6" stroke="#333" stroke-width="0.9"/><text x="1214.3" y="411.17" font-size="8.6" fill="#000" text-anchor="start" textLength="20.18" lengthAdjust="spacingAndGlyphs" >98.140</text><line x1="1211" y1="431.9" x2="1213" y2="431.9" stroke="#333" stroke-width="0.9"/><text x="1214.3" y="434.48" font-size="8.6" fill="#000" text-anchor="start" textLength="20.18" lengthAdjust="spacingAndGlyphs" >97.090</text><line x1="1211" y1="455.2" x2="1213" y2="455.2" stroke="#333" stroke-width="0.9"/><text x="1214.3" y="457.79" font-size="8.6" fill="#000" text-anchor="start" textLength="20.18" lengthAdjust="spacingAndGlyphs" >96.040</text><line x1="1211" y1="478.5" x2="1213" y2="478.5" stroke="#333" stroke-width="0.9"/><text x="1214.3" y="481.1" font-size="8.6" fill="#000" text-anchor="start" textLength="20.18" lengthAdjust="spacingAndGlyphs" >94.990</text><line x1="1211" y1="501.8" x2="1213" y2="501.8" stroke="#333" stroke-width="0.9"/><text x="1214.3" y="504.41" font-size="8.6" fill="#000" text-anchor="start" textLength="20.18" lengthAdjust="spacingAndGlyphs" >93.940</text><line x1="1211" y1="525.1" x2="1213" y2="525.1" stroke="#333" stroke-width="0.9"/><text x="1214.3" y="527.7199999999999" font-size="8.6" fill="#000" text-anchor="start" textLength="20.18" lengthAdjust="spacingAndGlyphs" >92.890</text><line x1="1211" y1="548.4" x2="1213" y2="548.4" stroke="#333" stroke-width="0.9"/><text x="1214.3" y="551.03" font-size="8.6" fill="#000" text-anchor="start" textLength="20.18" lengthAdjust="spacingAndGlyphs" >91.840</text><line x1="1211" y1="571.7" x2="1213" y2="571.7" stroke="#333" stroke-width="0.9"/><text x="1214.3" y="574.3399999999999" font-size="8.6" fill="#000" text-anchor="start" textLength="20.18" lengthAdjust="spacingAndGlyphs" >90.790</text><line x1="1211" y1="595.0" x2="1213" y2="595.0" stroke="#333" stroke-width="0.9"/><text x="1214.3" y="597.65" font-size="8.6" fill="#000" text-anchor="start" textLength="20.18" lengthAdjust="spacingAndGlyphs" >89.740</text><line x1="1211" y1="618.4" x2="1213" y2="618.4" stroke="#333" stroke-width="0.9"/><text x="1214.3" y="620.9599999999999" font-size="8.6" fill="#000" text-anchor="start" textLength="20.18" lengthAdjust="spacingAndGlyphs" >88.720</text><line x1="1211" y1="641.7" x2="1213" y2="641.7" stroke="#333" stroke-width="0.9"/><text x="1214.3" y="644.27" font-size="8.6" fill="#000" text-anchor="start" textLength="20.18" lengthAdjust="spacingAndGlyphs" >87.670</text><rect x="1211" y="52.3" width="29" height="7.8" fill="#ff0000"/><text x="1214.3" y="58.805524000000425" font-size="8.6" fill="#fff" text-anchor="start" textLength="23.37" lengthAdjust="spacingAndGlyphs" >113.957</text><rect x="1211" y="154.1" width="29" height="7.8" fill="#ff0000"/><text x="1214.3" y="160.59255200000015" font-size="8.6" fill="#fff" text-anchor="start" textLength="23.85" lengthAdjust="spacingAndGlyphs" >109.386</text><rect x="1211" y="202.8" width="29" height="7.8" fill="#ff0000"/><text x="1214.3" y="209.27039999999997" font-size="8.6" fill="#fff" text-anchor="start" textLength="23.85" lengthAdjust="spacingAndGlyphs" >107.200</text><rect x="1211" y="213.8" width="29" height="7.8" fill="#ff0000"/><text x="1214.3" y="220.29306000000005" font-size="8.6" fill="#fff" text-anchor="start" textLength="23.85" lengthAdjust="spacingAndGlyphs" >106.705</text><rect x="1211" y="254.3" width="29" height="7.8" fill="#000000"/><text x="1214.3" y="260.82082" font-size="8.6" fill="#fff" text-anchor="start" textLength="23.85" lengthAdjust="spacingAndGlyphs" >104.885</text><rect x="1211" y="272.2" width="29" height="7.8" fill="#ff0000"/><text x="1214.3" y="278.74656000000016" font-size="8.6" fill="#fff" text-anchor="start" textLength="23.85" lengthAdjust="spacingAndGlyphs" >104.080</text><rect x="1211" y="349.4" width="29" height="7.8" fill="#ff0000"/><text x="1214.3" y="355.860644" font-size="8.6" fill="#fff" text-anchor="start" textLength="23.85" lengthAdjust="spacingAndGlyphs" >100.617</text><rect x="1211" y="414.4" width="25.5" height="7.8" fill="#ff0000"/><text x="1214.3" y="420.86093600000015" font-size="8.6" fill="#fff" text-anchor="start" textLength="20.18" lengthAdjust="spacingAndGlyphs" >97.698</text><text x="6.8" y="15.6" font-size="7.8" fill="#000" text-anchor="start" textLength="40.22" lengthAdjust="spacingAndGlyphs" >Dollar,Weekly</text><text x="51.9" y="15.6" font-size="7.8" fill="#000" text-anchor="start" textLength="99.39" lengthAdjust="spacingAndGlyphs" >105.641 106.055 104.816 104.885</text><text x="7" y="654.3" font-size="7.8" fill="#000" text-anchor="start" textLength="89.88" lengthAdjust="spacingAndGlyphs" >MACD(12,26,9) 0.3794 0.3850</text><text x="1212.8" y="652.8000000000001" font-size="8.6" fill="#000" text-anchor="start" textLength="20.18" lengthAdjust="spacingAndGlyphs" >3.3578</text><text x="1212.8" y="725.0" font-size="8.6" fill="#000" text-anchor="start" textLength="12.84" lengthAdjust="spacingAndGlyphs" >0.00</text><text x="1212.8" y="769.1" font-size="8.6" fill="#000" text-anchor="start" textLength="18.22" lengthAdjust="spacingAndGlyphs" >-2.116</text><line x1="1211" y1="722.4" x2="1213" y2="722.4" stroke="#333" stroke-width="0.9"/><line x1="4.0" y1="771" x2="4.0" y2="774" stroke="#333" stroke-width="0.9"/><text x="3.1" y="780.5" font-size="7.6" fill="#000" text-anchor="start" textLength="33.38" lengthAdjust="spacingAndGlyphs" >5 Mar 2017</text><line x1="49.2" y1="771" x2="49.2" y2="774" stroke="#333" stroke-width="0.9"/><text x="48.324" y="780.5" font-size="7.6" fill="#000" text-anchor="start" textLength="36.33" lengthAdjust="spacingAndGlyphs" >25 Jun 2017</text><line x1="94.4" y1="771" x2="94.4" y2="774" stroke="#333" stroke-width="0.9"/><text x="93.54799999999999" y="780.5" font-size="7.6" fill="#000" text-anchor="start" textLength="35.96" lengthAdjust="spacingAndGlyphs" >15 Oct 2017</text><line x1="139.7" y1="771" x2="139.7" y2="774" stroke="#333" stroke-width="0.9"/><text x="138.772" y="780.5" font-size="7.6" fill="#000" text-anchor="start" textLength="33.39" lengthAdjust="spacingAndGlyphs" >4 Feb 2018</text><line x1="184.9" y1="771" x2="184.9" y2="774" stroke="#333" stroke-width="0.9"/><text x="183.99599999999998" y="780.5" font-size="7.6" fill="#000" text-anchor="start" textLength="38.16" lengthAdjust="spacingAndGlyphs" >27 May 2018</text><line x1="230.1" y1="771" x2="230.1" y2="774" stroke="#333" stroke-width="0.9"/><text x="229.21999999999997" y="780.5" font-size="7.6" fill="#000" text-anchor="start" textLength="37.43" lengthAdjust="spacingAndGlyphs" >16 Sep 2018</text><line x1="275.3" y1="771" x2="275.3" y2="774" stroke="#333" stroke-width="0.9"/><text x="274.444" y="780.5" font-size="7.6" fill="#000" text-anchor="start" textLength="32.66" lengthAdjust="spacingAndGlyphs" >6 Jan 2019</text><line x1="320.6" y1="771" x2="320.6" y2="774" stroke="#333" stroke-width="0.9"/><text x="319.668" y="780.5" font-size="7.6" fill="#000" text-anchor="start" textLength="35.59" lengthAdjust="spacingAndGlyphs" >28 Apr 2019</text><line x1="365.8" y1="771" x2="365.8" y2="774" stroke="#333" stroke-width="0.9"/><text x="364.892" y="780.5" font-size="7.6" fill="#000" text-anchor="start" textLength="37.07" lengthAdjust="spacingAndGlyphs" >18 Aug 2019</text><line x1="411.0" y1="771" x2="411.0" y2="774" stroke="#333" stroke-width="0.9"/><text x="410.116" y="780.5" font-size="7.6" fill="#000" text-anchor="start" textLength="33.75" lengthAdjust="spacingAndGlyphs" >8 Dec 2019</text><line x1="456.2" y1="771" x2="456.2" y2="774" stroke="#333" stroke-width="0.9"/><text x="455.34" y="780.5" font-size="7.6" fill="#000" text-anchor="start" textLength="37.05" lengthAdjust="spacingAndGlyphs" >29 Mar 2020</text><line x1="501.5" y1="771" x2="501.5" y2="774" stroke="#333" stroke-width="0.9"/><text x="500.56399999999996" y="780.5" font-size="7.6" fill="#000" text-anchor="start" textLength="34.13" lengthAdjust="spacingAndGlyphs" >19 Jul 2020</text><line x1="546.7" y1="771" x2="546.7" y2="774" stroke="#333" stroke-width="0.9"/><text x="545.788" y="780.5" font-size="7.6" fill="#000" text-anchor="start" textLength="33.75" lengthAdjust="spacingAndGlyphs" >8 Nov 2020</text><line x1="591.9" y1="771" x2="591.9" y2="774" stroke="#333" stroke-width="0.9"/><text x="591.012" y="780.5" font-size="7.6" fill="#000" text-anchor="start" textLength="37.06" lengthAdjust="spacingAndGlyphs" >21 Feb 2021</text><line x1="637.1" y1="771" x2="637.1" y2="774" stroke="#333" stroke-width="0.9"/><text x="636.236" y="780.5" font-size="7.6" fill="#000" text-anchor="start" textLength="36.33" lengthAdjust="spacingAndGlyphs" >13 Jun 2021</text><line x1="682.4" y1="771" x2="682.4" y2="774" stroke="#333" stroke-width="0.9"/><text x="681.4599999999999" y="780.5" font-size="7.6" fill="#000" text-anchor="start" textLength="32.29" lengthAdjust="spacingAndGlyphs" >3 Oct 2021</text><line x1="727.6" y1="771" x2="727.6" y2="774" stroke="#333" stroke-width="0.9"/><text x="726.684" y="780.5" font-size="7.6" fill="#000" text-anchor="start" textLength="36.33" lengthAdjust="spacingAndGlyphs" >23 Jan 2022</text><line x1="772.8" y1="771" x2="772.8" y2="774" stroke="#333" stroke-width="0.9"/><text x="771.908" y="780.5" font-size="7.6" fill="#000" text-anchor="start" textLength="38.16" lengthAdjust="spacingAndGlyphs" >15 May 2022</text><line x1="818.0" y1="771" x2="818.0" y2="774" stroke="#333" stroke-width="0.9"/><text x="817.132" y="780.5" font-size="7.6" fill="#000" text-anchor="start" textLength="33.76" lengthAdjust="spacingAndGlyphs" >4 Sep 2022</text><line x1="863.3" y1="771" x2="863.3" y2="774" stroke="#333" stroke-width="0.9"/><text x="862.356" y="780.5" font-size="7.6" fill="#000" text-anchor="start" textLength="37.43" lengthAdjust="spacingAndGlyphs" >25 Dec 2022</text><line x1="908.5" y1="771" x2="908.5" y2="774" stroke="#333" stroke-width="0.9"/><text x="907.5799999999999" y="780.5" font-size="7.6" fill="#000" text-anchor="start" textLength="35.59" lengthAdjust="spacingAndGlyphs" >16 Apr 2023</text><line x1="953.7" y1="771" x2="953.7" y2="774" stroke="#333" stroke-width="0.9"/><text x="952.804" y="780.5" font-size="7.6" fill="#000" text-anchor="start" textLength="33.40" lengthAdjust="spacingAndGlyphs" >6 Aug 2023</text><line x1="998.9" y1="771" x2="998.9" y2="774" stroke="#333" stroke-width="0.9"/><text x="998.0279999999999" y="780.5" font-size="7.6" fill="#000" text-anchor="start" textLength="37.43" lengthAdjust="spacingAndGlyphs" >26 Nov 2023</text><line x1="1044.2" y1="771" x2="1044.2" y2="774" stroke="#333" stroke-width="0.9"/><text x="1043.2519999999997" y="780.5" font-size="7.6" fill="#000" text-anchor="start" textLength="37.05" lengthAdjust="spacingAndGlyphs" >17 Mar 2024</text><path d="M1085.5,8.5 L1091.5,8.5 L1088.5,11.8 Z" fill="#a8a8a8"/></svg></body></html>
